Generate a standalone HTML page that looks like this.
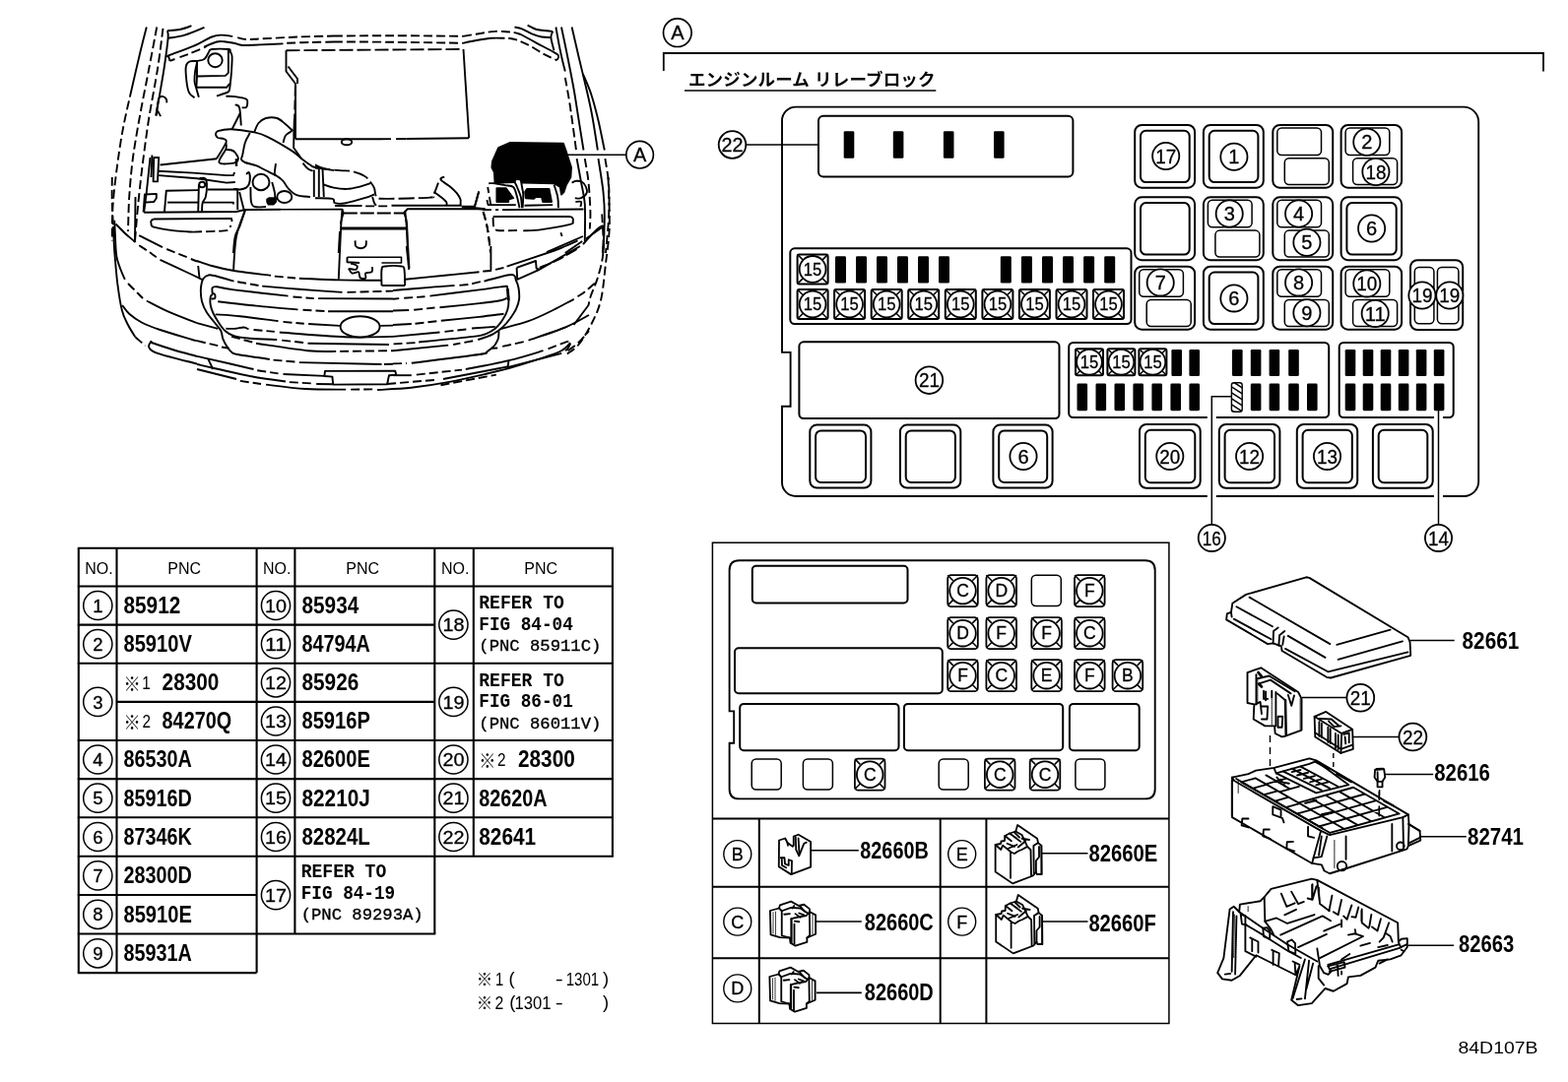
<!DOCTYPE html>
<html lang="ja"><head><meta charset="utf-8"><title>84D107B</title>
<style>
html,body{margin:0;padding:0;background:#fff;overflow:hidden}
svg{display:block;will-change:transform;opacity:.999}
text{font-family:"Liberation Sans",sans-serif;fill:#000}
.c{stroke:#000;stroke-width:.3}
.m{font-family:"Liberation Mono",monospace;font-weight:bold}
.j{stroke-linejoin:round;stroke-linecap:round}
.k{font-family:"Liberation Sans","Noto Sans CJK JP",sans-serif}
</style></head><body>
<svg width="1592" height="1099" viewBox="0 0 1592 1099">
<rect width="1592" height="1099" fill="#fff"/>
<g id="pnc-table">
<line x1="79.8" y1="556.8" x2="79.8" y2="988.1" stroke="#000" stroke-width="2.1"/>
<line x1="118.5" y1="556.8" x2="118.5" y2="988.1" stroke="#000" stroke-width="2.1"/>
<line x1="260.6" y1="556.8" x2="260.6" y2="988.1" stroke="#000" stroke-width="2.1"/>
<line x1="299.4" y1="556.8" x2="299.4" y2="948.5" stroke="#000" stroke-width="2.1"/>
<line x1="441.3" y1="556.8" x2="441.3" y2="948.5" stroke="#000" stroke-width="2.1"/>
<line x1="480.8" y1="556.8" x2="480.8" y2="869.8" stroke="#000" stroke-width="2.1"/>
<line x1="621.9" y1="556.8" x2="621.9" y2="869.8" stroke="#000" stroke-width="2.1"/>
<line x1="78.8" y1="556.8" x2="622.9" y2="556.8" stroke="#000" stroke-width="2.1"/>
<line x1="78.8" y1="595.5" x2="622.9" y2="595.5" stroke="#000" stroke-width="2.1"/>
<line x1="78.8" y1="634.6" x2="260.6" y2="634.6" stroke="#000" stroke-width="2.1"/>
<line x1="78.8" y1="673.8" x2="260.6" y2="673.8" stroke="#000" stroke-width="2.1"/>
<line x1="78.8" y1="752.0" x2="260.6" y2="752.0" stroke="#000" stroke-width="2.1"/>
<line x1="78.8" y1="791.1" x2="260.6" y2="791.1" stroke="#000" stroke-width="2.1"/>
<line x1="78.8" y1="830.3" x2="260.6" y2="830.3" stroke="#000" stroke-width="2.1"/>
<line x1="78.8" y1="869.8" x2="260.6" y2="869.8" stroke="#000" stroke-width="2.1"/>
<line x1="78.8" y1="909.0" x2="260.6" y2="909.0" stroke="#000" stroke-width="2.1"/>
<line x1="78.8" y1="948.5" x2="260.6" y2="948.5" stroke="#000" stroke-width="2.1"/>
<line x1="78.8" y1="988.1" x2="260.6" y2="988.1" stroke="#000" stroke-width="2.1"/>
<line x1="118.5" y1="712.9" x2="260.6" y2="712.9" stroke="#000" stroke-width="2.1"/>
<line x1="260.6" y1="634.6" x2="441.3" y2="634.6" stroke="#000" stroke-width="2.1"/>
<line x1="260.6" y1="673.8" x2="441.3" y2="673.8" stroke="#000" stroke-width="2.1"/>
<line x1="260.6" y1="712.9" x2="441.3" y2="712.9" stroke="#000" stroke-width="2.1"/>
<line x1="260.6" y1="752.0" x2="441.3" y2="752.0" stroke="#000" stroke-width="2.1"/>
<line x1="260.6" y1="791.1" x2="441.3" y2="791.1" stroke="#000" stroke-width="2.1"/>
<line x1="260.6" y1="830.3" x2="441.3" y2="830.3" stroke="#000" stroke-width="2.1"/>
<line x1="260.6" y1="869.8" x2="441.3" y2="869.8" stroke="#000" stroke-width="2.1"/>
<line x1="260.6" y1="948.5" x2="442.3" y2="948.5" stroke="#000" stroke-width="2.1"/>
<line x1="441.3" y1="673.8" x2="622.9" y2="673.8" stroke="#000" stroke-width="2.1"/>
<line x1="441.3" y1="752.0" x2="622.9" y2="752.0" stroke="#000" stroke-width="2.1"/>
<line x1="441.3" y1="791.1" x2="622.9" y2="791.1" stroke="#000" stroke-width="2.1"/>
<line x1="441.3" y1="830.3" x2="622.9" y2="830.3" stroke="#000" stroke-width="2.1"/>
<line x1="441.3" y1="869.8" x2="622.9" y2="869.8" stroke="#000" stroke-width="2.1"/>
<text x="100.4" y="582.8" font-size="16" text-anchor="middle">NO.</text>
<text x="187.2" y="582.8" font-size="16" text-anchor="middle">PNC</text>
<text x="281.2" y="582.8" font-size="16" text-anchor="middle">NO.</text>
<text x="368.1" y="582.8" font-size="16" text-anchor="middle">PNC</text>
<text x="462.2" y="582.8" font-size="16" text-anchor="middle">NO.</text>
<text x="549.1" y="582.8" font-size="16" text-anchor="middle">PNC</text>
<circle cx="99.3" cy="615.0" r="14.6" fill="#fff" stroke="#000" stroke-width="1.5"/>
<text class="c" x="99.3" y="621.6" font-size="18.5" text-anchor="middle">1</text>
<text x="125.5" y="622.9" font-size="24.6" font-weight="bold" textLength="57.8" lengthAdjust="spacingAndGlyphs" text-anchor="start">85912</text>
<circle cx="99.3" cy="654.2" r="14.6" fill="#fff" stroke="#000" stroke-width="1.5"/>
<text class="c" x="99.3" y="660.8" font-size="18.5" text-anchor="middle">2</text>
<text x="125.5" y="662.0" font-size="24.6" font-weight="bold" textLength="69.3" lengthAdjust="spacingAndGlyphs" text-anchor="start">85910V</text>
<circle cx="99.3" cy="712.9" r="14.6" fill="#fff" stroke="#000" stroke-width="1.5"/>
<text class="c" x="99.3" y="719.5" font-size="18.5" text-anchor="middle">3</text>
<text class="k" x="125.5" y="701.95" font-size="19" textLength="17.2" lengthAdjust="spacingAndGlyphs">※</text>
<text x="144.2" y="700.2" font-size="17.7" textLength="8.5" lengthAdjust="spacingAndGlyphs">1</text>
<text x="164.6" y="701.1" font-size="24.6" font-weight="bold" textLength="57.8" lengthAdjust="spacingAndGlyphs" text-anchor="start">28300</text>
<text class="k" x="125.5" y="741.05" font-size="19" textLength="17.2" lengthAdjust="spacingAndGlyphs">※</text>
<text x="144.5" y="739.4" font-size="17.7" textLength="8.5" lengthAdjust="spacingAndGlyphs">2</text>
<text x="164.6" y="740.3" font-size="24.6" font-weight="bold" textLength="70.5" lengthAdjust="spacingAndGlyphs" text-anchor="start">84270Q</text>
<circle cx="99.3" cy="771.5" r="14.6" fill="#fff" stroke="#000" stroke-width="1.5"/>
<text class="c" x="99.3" y="778.1" font-size="18.5" text-anchor="middle">4</text>
<text x="125.5" y="779.4" font-size="24.6" font-weight="bold" textLength="69.3" lengthAdjust="spacingAndGlyphs" text-anchor="start">86530A</text>
<circle cx="99.3" cy="810.7" r="14.6" fill="#fff" stroke="#000" stroke-width="1.5"/>
<text class="c" x="99.3" y="817.3" font-size="18.5" text-anchor="middle">5</text>
<text x="125.5" y="818.5" font-size="24.6" font-weight="bold" textLength="69.3" lengthAdjust="spacingAndGlyphs" text-anchor="start">85916D</text>
<circle cx="99.3" cy="850.0" r="14.6" fill="#fff" stroke="#000" stroke-width="1.5"/>
<text class="c" x="99.3" y="856.6" font-size="18.5" text-anchor="middle">6</text>
<text x="125.5" y="857.9" font-size="24.6" font-weight="bold" textLength="69.3" lengthAdjust="spacingAndGlyphs" text-anchor="start">87346K</text>
<circle cx="99.3" cy="889.4" r="14.6" fill="#fff" stroke="#000" stroke-width="1.5"/>
<text class="c" x="99.3" y="896.0" font-size="18.5" text-anchor="middle">7</text>
<text x="125.5" y="897.2" font-size="24.6" font-weight="bold" textLength="69.3" lengthAdjust="spacingAndGlyphs" text-anchor="start">28300D</text>
<circle cx="99.3" cy="928.8" r="14.6" fill="#fff" stroke="#000" stroke-width="1.5"/>
<text class="c" x="99.3" y="935.3" font-size="18.5" text-anchor="middle">8</text>
<text x="125.5" y="936.6" font-size="24.6" font-weight="bold" textLength="69.3" lengthAdjust="spacingAndGlyphs" text-anchor="start">85910E</text>
<circle cx="99.3" cy="968.3" r="14.6" fill="#fff" stroke="#000" stroke-width="1.5"/>
<text class="c" x="99.3" y="974.9" font-size="18.5" text-anchor="middle">9</text>
<text x="125.5" y="976.1" font-size="24.6" font-weight="bold" textLength="69.3" lengthAdjust="spacingAndGlyphs" text-anchor="start">85931A</text>
<circle cx="280.0" cy="615.0" r="14.6" fill="#fff" stroke="#000" stroke-width="1.5"/>
<text class="c" x="280.0" y="621.6" font-size="18.5" text-anchor="middle" textLength="22" lengthAdjust="spacingAndGlyphs">10</text>
<text x="306.5" y="622.9" font-size="24.6" font-weight="bold" textLength="57.8" lengthAdjust="spacingAndGlyphs" text-anchor="start">85934</text>
<circle cx="280.0" cy="654.2" r="14.6" fill="#fff" stroke="#000" stroke-width="1.5"/>
<text class="c" x="280.0" y="660.8" font-size="18.5" text-anchor="middle" textLength="22" lengthAdjust="spacingAndGlyphs">11</text>
<text x="306.5" y="662.0" font-size="24.6" font-weight="bold" textLength="69.3" lengthAdjust="spacingAndGlyphs" text-anchor="start">84794A</text>
<circle cx="280.0" cy="693.3" r="14.6" fill="#fff" stroke="#000" stroke-width="1.5"/>
<text class="c" x="280.0" y="699.9" font-size="18.5" text-anchor="middle" textLength="22" lengthAdjust="spacingAndGlyphs">12</text>
<text x="306.5" y="701.1" font-size="24.6" font-weight="bold" textLength="57.8" lengthAdjust="spacingAndGlyphs" text-anchor="start">85926</text>
<circle cx="280.0" cy="732.5" r="14.6" fill="#fff" stroke="#000" stroke-width="1.5"/>
<text class="c" x="280.0" y="739.0" font-size="18.5" text-anchor="middle" textLength="22" lengthAdjust="spacingAndGlyphs">13</text>
<text x="306.5" y="740.3" font-size="24.6" font-weight="bold" textLength="69.3" lengthAdjust="spacingAndGlyphs" text-anchor="start">85916P</text>
<circle cx="280.0" cy="771.5" r="14.6" fill="#fff" stroke="#000" stroke-width="1.5"/>
<text class="c" x="280.0" y="778.1" font-size="18.5" text-anchor="middle" textLength="22" lengthAdjust="spacingAndGlyphs">14</text>
<text x="306.5" y="779.4" font-size="24.6" font-weight="bold" textLength="69.3" lengthAdjust="spacingAndGlyphs" text-anchor="start">82600E</text>
<circle cx="280.0" cy="810.7" r="14.6" fill="#fff" stroke="#000" stroke-width="1.5"/>
<text class="c" x="280.0" y="817.3" font-size="18.5" text-anchor="middle" textLength="22" lengthAdjust="spacingAndGlyphs">15</text>
<text x="306.5" y="818.5" font-size="24.6" font-weight="bold" textLength="69.3" lengthAdjust="spacingAndGlyphs" text-anchor="start">82210J</text>
<circle cx="280.0" cy="850.0" r="14.6" fill="#fff" stroke="#000" stroke-width="1.5"/>
<text class="c" x="280.0" y="856.6" font-size="18.5" text-anchor="middle" textLength="22" lengthAdjust="spacingAndGlyphs">16</text>
<text x="306.5" y="857.9" font-size="24.6" font-weight="bold" textLength="69.3" lengthAdjust="spacingAndGlyphs" text-anchor="start">82824L</text>
<circle cx="280.0" cy="909.1" r="14.6" fill="#fff" stroke="#000" stroke-width="1.5"/>
<text class="c" x="280.0" y="915.7" font-size="18.5" text-anchor="middle" textLength="22" lengthAdjust="spacingAndGlyphs">17</text>
<text class="m" x="305.7" y="891.4" font-size="20" textLength="86.5" lengthAdjust="spacingAndGlyphs">REFER TO</text>
<text class="m" x="305.7" y="912.8" font-size="20" textLength="95.5" lengthAdjust="spacingAndGlyphs">FIG 84-19</text>
<text class="m" x="305.7" y="934.4" font-size="17" textLength="124" lengthAdjust="spacingAndGlyphs" style="font-weight:normal;stroke:#000;stroke-width:.35">(PNC 89293A)</text>
<circle cx="460.4" cy="634.6" r="14.6" fill="#fff" stroke="#000" stroke-width="1.5"/>
<text class="c" x="460.4" y="641.2" font-size="18.5" text-anchor="middle" textLength="22" lengthAdjust="spacingAndGlyphs">18</text>
<text class="m" x="486.3" y="618.4" font-size="20" textLength="86.5" lengthAdjust="spacingAndGlyphs">REFER TO</text>
<text class="m" x="486.3" y="639.8" font-size="20" textLength="95.5" lengthAdjust="spacingAndGlyphs">FIG 84-04</text>
<text class="m" x="486.3" y="661.4" font-size="17" textLength="124" lengthAdjust="spacingAndGlyphs" style="font-weight:normal;stroke:#000;stroke-width:.35">(PNC 85911C)</text>
<circle cx="460.4" cy="712.9" r="14.6" fill="#fff" stroke="#000" stroke-width="1.5"/>
<text class="c" x="460.4" y="719.5" font-size="18.5" text-anchor="middle" textLength="22" lengthAdjust="spacingAndGlyphs">19</text>
<text class="m" x="486.3" y="696.8" font-size="20" textLength="86.5" lengthAdjust="spacingAndGlyphs">REFER TO</text>
<text class="m" x="486.3" y="718.2" font-size="20" textLength="95.5" lengthAdjust="spacingAndGlyphs">FIG 86-01</text>
<text class="m" x="486.3" y="739.8" font-size="17" textLength="124" lengthAdjust="spacingAndGlyphs" style="font-weight:normal;stroke:#000;stroke-width:.35">(PNC 86011V)</text>
<circle cx="460.4" cy="771.5" r="14.6" fill="#fff" stroke="#000" stroke-width="1.5"/>
<text class="c" x="460.4" y="778.1" font-size="18.5" text-anchor="middle" textLength="22" lengthAdjust="spacingAndGlyphs">20</text>
<text class="k" x="486.3" y="780.15" font-size="19" textLength="17.2" lengthAdjust="spacingAndGlyphs">※</text>
<text x="505.0" y="778.4" font-size="17.7" textLength="8.5" lengthAdjust="spacingAndGlyphs">2</text>
<text x="526.0" y="779.4" font-size="24.6" font-weight="bold" textLength="57.8" lengthAdjust="spacingAndGlyphs" text-anchor="start">28300</text>
<circle cx="460.4" cy="810.7" r="14.6" fill="#fff" stroke="#000" stroke-width="1.5"/>
<text class="c" x="460.4" y="817.3" font-size="18.5" text-anchor="middle" textLength="22" lengthAdjust="spacingAndGlyphs">21</text>
<text x="486.3" y="818.5" font-size="24.6" font-weight="bold" textLength="69.3" lengthAdjust="spacingAndGlyphs" text-anchor="start">82620A</text>
<circle cx="460.4" cy="850.0" r="14.6" fill="#fff" stroke="#000" stroke-width="1.5"/>
<text class="c" x="460.4" y="856.6" font-size="18.5" text-anchor="middle" textLength="22" lengthAdjust="spacingAndGlyphs">22</text>
<text x="486.3" y="857.9" font-size="24.6" font-weight="bold" textLength="57.8" lengthAdjust="spacingAndGlyphs" text-anchor="start">82641</text>
<text class="k" x="483.8" y="1000.8" font-size="17.5" textLength="16.4" lengthAdjust="spacingAndGlyphs">※</text>
<text class="k" x="483.8" y="1024.6" font-size="17.5" textLength="16.4" lengthAdjust="spacingAndGlyphs">※</text>
<text x="503.0" y="1000.8" font-size="18.4" textLength="8.2" lengthAdjust="spacingAndGlyphs">1</text>
<text x="516.6" y="1000.4" font-size="18.4">(</text>
<text x="563.8" y="1000.8" font-size="18.4" textLength="8.0" lengthAdjust="spacingAndGlyphs">-</text>
<text x="574.7" y="1000.8" font-size="18.4" textLength="33.5" lengthAdjust="spacingAndGlyphs">1301</text>
<text x="612.0" y="1000.4" font-size="18.4">)</text>
<text x="502.4" y="1024.6" font-size="18.4" textLength="8.8" lengthAdjust="spacingAndGlyphs">2</text>
<text x="517.3" y="1024.2" font-size="18.4">(</text>
<text x="522.6" y="1024.6" font-size="18.4" textLength="37.0" lengthAdjust="spacingAndGlyphs">1301</text>
<text x="563.8" y="1024.6" font-size="18.4" textLength="8.0" lengthAdjust="spacingAndGlyphs">-</text>
<text x="612.0" y="1024.2" font-size="18.4">)</text>
</g>
<g id="relay-block">
<circle cx="687.8" cy="33.2" r="14.3" fill="#fff" stroke="#000" stroke-width="1.7"/>
<text class="c" x="687.8" y="40.3" font-size="20" text-anchor="middle">A</text>
<path d="M673.8,72 L673.8,54 L1567,54 L1567,72.5" fill="none" stroke="#000" stroke-width="1.8" />
<g aria-label="エンジンルーム リレーブロック">
<text class="k" x="698.9" y="87" font-size="17.5" font-weight="bold" textLength="250.6" lengthAdjust="spacing">エンジンルーム リレーブロック</text>
</g>
<line x1="695.0" y1="92.0" x2="950.3" y2="92.0" stroke="#000" stroke-width="1.6"/>
<path d="M808,108.6 L1486,108.6 A15.2,15.2 0 0 1 1501.2,123.8 L1501.2,489 A15,15 0 0 1 1486.2,504 L808,504 A14,14 0 0 1 794,490 L794,412.7 L802.6,412.7 L802.6,357.9 L794,357.9 L794,122.6 A14,14 0 0 1 808,108.6 Z" fill="none" stroke="#000" stroke-width="1.9" />
<rect x="831.0" y="117.8" width="258.4" height="61.8" rx="5" ry="5" fill="none" stroke="#000" stroke-width="2.0"/>
<rect x="856.7" y="133.2" width="10.6" height="27.6" rx="1.4" ry="1.4" fill="#000"/>
<rect x="906.8" y="133.2" width="10.6" height="27.6" rx="1.4" ry="1.4" fill="#000"/>
<rect x="957.9" y="133.2" width="10.6" height="27.6" rx="1.4" ry="1.4" fill="#000"/>
<rect x="1009.0" y="133.2" width="10.6" height="27.6" rx="1.4" ry="1.4" fill="#000"/>
<circle cx="743.5" cy="147.0" r="13.8" fill="#fff" stroke="#000" stroke-width="1.8"/>
<text class="c" x="743.5" y="154.1" font-size="20" text-anchor="middle" textLength="22" lengthAdjust="spacingAndGlyphs">22</text>
<line x1="757.3" y1="147.0" x2="831.0" y2="147.0" stroke="#000" stroke-width="1.6"/>
<rect x="802.3" y="252.3" width="346.2" height="76.7" rx="4.5" ry="4.5" fill="none" stroke="#000" stroke-width="2.0"/>
<rect x="809.6" y="258.4" width="31.0" height="30.0" rx="2" ry="2" fill="none" stroke="#000" stroke-width="2.0"/>
<line x1="809.6" y1="258.4" x2="815.6" y2="264.4" stroke="#000" stroke-width="1.5"/>
<line x1="840.6" y1="258.4" x2="834.6" y2="264.4" stroke="#000" stroke-width="1.5"/>
<line x1="809.6" y1="288.4" x2="815.6" y2="282.4" stroke="#000" stroke-width="1.5"/>
<line x1="840.6" y1="288.4" x2="834.6" y2="282.4" stroke="#000" stroke-width="1.5"/>
<circle cx="825.1" cy="273.4" r="13.4" fill="#fff" stroke="#000" stroke-width="1.8"/>
<text class="c" x="825.1" y="279.8" font-size="18" text-anchor="middle" textLength="18.5" lengthAdjust="spacingAndGlyphs">15</text>
<rect x="848.0" y="260.2" width="11" height="27.4" rx="1.4" ry="1.4" fill="#000"/>
<rect x="869.0" y="260.2" width="11" height="27.4" rx="1.4" ry="1.4" fill="#000"/>
<rect x="890.0" y="260.2" width="11" height="27.4" rx="1.4" ry="1.4" fill="#000"/>
<rect x="911.0" y="260.2" width="11" height="27.4" rx="1.4" ry="1.4" fill="#000"/>
<rect x="932.0" y="260.2" width="11" height="27.4" rx="1.4" ry="1.4" fill="#000"/>
<rect x="953.0" y="260.2" width="11" height="27.4" rx="1.4" ry="1.4" fill="#000"/>
<rect x="1015.8" y="260.2" width="11" height="27.4" rx="1.4" ry="1.4" fill="#000"/>
<rect x="1036.9" y="260.2" width="11" height="27.4" rx="1.4" ry="1.4" fill="#000"/>
<rect x="1058.0" y="260.2" width="11" height="27.4" rx="1.4" ry="1.4" fill="#000"/>
<rect x="1079.0" y="260.2" width="11" height="27.4" rx="1.4" ry="1.4" fill="#000"/>
<rect x="1100.1" y="260.2" width="11" height="27.4" rx="1.4" ry="1.4" fill="#000"/>
<rect x="1121.2" y="260.2" width="11" height="27.4" rx="1.4" ry="1.4" fill="#000"/>
<rect x="809.6" y="294.0" width="31.0" height="30.0" rx="2" ry="2" fill="none" stroke="#000" stroke-width="2.0"/>
<line x1="809.6" y1="294.0" x2="815.6" y2="300.0" stroke="#000" stroke-width="1.5"/>
<line x1="840.6" y1="294.0" x2="834.6" y2="300.0" stroke="#000" stroke-width="1.5"/>
<line x1="809.6" y1="324.0" x2="815.6" y2="318.0" stroke="#000" stroke-width="1.5"/>
<line x1="840.6" y1="324.0" x2="834.6" y2="318.0" stroke="#000" stroke-width="1.5"/>
<circle cx="825.1" cy="309.0" r="13.4" fill="#fff" stroke="#000" stroke-width="1.8"/>
<text class="c" x="825.1" y="315.4" font-size="18" text-anchor="middle" textLength="18.5" lengthAdjust="spacingAndGlyphs">15</text>
<rect x="847.1" y="294.0" width="31.0" height="30.0" rx="2" ry="2" fill="none" stroke="#000" stroke-width="2.0"/>
<line x1="847.1" y1="294.0" x2="853.1" y2="300.0" stroke="#000" stroke-width="1.5"/>
<line x1="878.1" y1="294.0" x2="872.1" y2="300.0" stroke="#000" stroke-width="1.5"/>
<line x1="847.1" y1="324.0" x2="853.1" y2="318.0" stroke="#000" stroke-width="1.5"/>
<line x1="878.1" y1="324.0" x2="872.1" y2="318.0" stroke="#000" stroke-width="1.5"/>
<circle cx="862.6" cy="309.0" r="13.4" fill="#fff" stroke="#000" stroke-width="1.8"/>
<text class="c" x="862.6" y="315.4" font-size="18" text-anchor="middle" textLength="18.5" lengthAdjust="spacingAndGlyphs">15</text>
<rect x="884.7" y="294.0" width="31.0" height="30.0" rx="2" ry="2" fill="none" stroke="#000" stroke-width="2.0"/>
<line x1="884.7" y1="294.0" x2="890.7" y2="300.0" stroke="#000" stroke-width="1.5"/>
<line x1="915.7" y1="294.0" x2="909.7" y2="300.0" stroke="#000" stroke-width="1.5"/>
<line x1="884.7" y1="324.0" x2="890.7" y2="318.0" stroke="#000" stroke-width="1.5"/>
<line x1="915.7" y1="324.0" x2="909.7" y2="318.0" stroke="#000" stroke-width="1.5"/>
<circle cx="900.2" cy="309.0" r="13.4" fill="#fff" stroke="#000" stroke-width="1.8"/>
<text class="c" x="900.2" y="315.4" font-size="18" text-anchor="middle" textLength="18.5" lengthAdjust="spacingAndGlyphs">15</text>
<rect x="922.2" y="294.0" width="31.0" height="30.0" rx="2" ry="2" fill="none" stroke="#000" stroke-width="2.0"/>
<line x1="922.2" y1="294.0" x2="928.2" y2="300.0" stroke="#000" stroke-width="1.5"/>
<line x1="953.2" y1="294.0" x2="947.2" y2="300.0" stroke="#000" stroke-width="1.5"/>
<line x1="922.2" y1="324.0" x2="928.2" y2="318.0" stroke="#000" stroke-width="1.5"/>
<line x1="953.2" y1="324.0" x2="947.2" y2="318.0" stroke="#000" stroke-width="1.5"/>
<circle cx="937.8" cy="309.0" r="13.4" fill="#fff" stroke="#000" stroke-width="1.8"/>
<text class="c" x="937.8" y="315.4" font-size="18" text-anchor="middle" textLength="18.5" lengthAdjust="spacingAndGlyphs">15</text>
<rect x="959.8" y="294.0" width="31.0" height="30.0" rx="2" ry="2" fill="none" stroke="#000" stroke-width="2.0"/>
<line x1="959.8" y1="294.0" x2="965.8" y2="300.0" stroke="#000" stroke-width="1.5"/>
<line x1="990.8" y1="294.0" x2="984.8" y2="300.0" stroke="#000" stroke-width="1.5"/>
<line x1="959.8" y1="324.0" x2="965.8" y2="318.0" stroke="#000" stroke-width="1.5"/>
<line x1="990.8" y1="324.0" x2="984.8" y2="318.0" stroke="#000" stroke-width="1.5"/>
<circle cx="975.3" cy="309.0" r="13.4" fill="#fff" stroke="#000" stroke-width="1.8"/>
<text class="c" x="975.3" y="315.4" font-size="18" text-anchor="middle" textLength="18.5" lengthAdjust="spacingAndGlyphs">15</text>
<rect x="997.4" y="294.0" width="31.0" height="30.0" rx="2" ry="2" fill="none" stroke="#000" stroke-width="2.0"/>
<line x1="997.4" y1="294.0" x2="1003.4" y2="300.0" stroke="#000" stroke-width="1.5"/>
<line x1="1028.3" y1="294.0" x2="1022.3" y2="300.0" stroke="#000" stroke-width="1.5"/>
<line x1="997.4" y1="324.0" x2="1003.4" y2="318.0" stroke="#000" stroke-width="1.5"/>
<line x1="1028.3" y1="324.0" x2="1022.3" y2="318.0" stroke="#000" stroke-width="1.5"/>
<circle cx="1012.9" cy="309.0" r="13.4" fill="#fff" stroke="#000" stroke-width="1.8"/>
<text class="c" x="1012.9" y="315.4" font-size="18" text-anchor="middle" textLength="18.5" lengthAdjust="spacingAndGlyphs">15</text>
<rect x="1034.9" y="294.0" width="31.0" height="30.0" rx="2" ry="2" fill="none" stroke="#000" stroke-width="2.0"/>
<line x1="1034.9" y1="294.0" x2="1040.9" y2="300.0" stroke="#000" stroke-width="1.5"/>
<line x1="1065.9" y1="294.0" x2="1059.9" y2="300.0" stroke="#000" stroke-width="1.5"/>
<line x1="1034.9" y1="324.0" x2="1040.9" y2="318.0" stroke="#000" stroke-width="1.5"/>
<line x1="1065.9" y1="324.0" x2="1059.9" y2="318.0" stroke="#000" stroke-width="1.5"/>
<circle cx="1050.4" cy="309.0" r="13.4" fill="#fff" stroke="#000" stroke-width="1.8"/>
<text class="c" x="1050.4" y="315.4" font-size="18" text-anchor="middle" textLength="18.5" lengthAdjust="spacingAndGlyphs">15</text>
<rect x="1072.5" y="294.0" width="31.0" height="30.0" rx="2" ry="2" fill="none" stroke="#000" stroke-width="2.0"/>
<line x1="1072.5" y1="294.0" x2="1078.5" y2="300.0" stroke="#000" stroke-width="1.5"/>
<line x1="1103.5" y1="294.0" x2="1097.5" y2="300.0" stroke="#000" stroke-width="1.5"/>
<line x1="1072.5" y1="324.0" x2="1078.5" y2="318.0" stroke="#000" stroke-width="1.5"/>
<line x1="1103.5" y1="324.0" x2="1097.5" y2="318.0" stroke="#000" stroke-width="1.5"/>
<circle cx="1088.0" cy="309.0" r="13.4" fill="#fff" stroke="#000" stroke-width="1.8"/>
<text class="c" x="1088.0" y="315.4" font-size="18" text-anchor="middle" textLength="18.5" lengthAdjust="spacingAndGlyphs">15</text>
<rect x="1110.0" y="294.0" width="31.0" height="30.0" rx="2" ry="2" fill="none" stroke="#000" stroke-width="2.0"/>
<line x1="1110.0" y1="294.0" x2="1116.0" y2="300.0" stroke="#000" stroke-width="1.5"/>
<line x1="1141.0" y1="294.0" x2="1135.0" y2="300.0" stroke="#000" stroke-width="1.5"/>
<line x1="1110.0" y1="324.0" x2="1116.0" y2="318.0" stroke="#000" stroke-width="1.5"/>
<line x1="1141.0" y1="324.0" x2="1135.0" y2="318.0" stroke="#000" stroke-width="1.5"/>
<circle cx="1125.5" cy="309.0" r="13.4" fill="#fff" stroke="#000" stroke-width="1.8"/>
<text class="c" x="1125.5" y="315.4" font-size="18" text-anchor="middle" textLength="18.5" lengthAdjust="spacingAndGlyphs">15</text>
<rect x="811.4" y="347.3" width="264.1" height="77.7" rx="4.5" ry="4.5" fill="none" stroke="#000" stroke-width="2.0"/>
<circle cx="943.4" cy="386.2" r="13.8" fill="#fff" stroke="#000" stroke-width="1.8"/>
<text class="c" x="943.4" y="393.3" font-size="20" text-anchor="middle" textLength="21" lengthAdjust="spacingAndGlyphs">21</text>
<rect x="1085.2" y="348.0" width="264.0" height="76.0" rx="4.5" ry="4.5" fill="none" stroke="#000" stroke-width="2.0"/>
<rect x="1092.0" y="354.2" width="28.0" height="27.0" rx="2" ry="2" fill="none" stroke="#000" stroke-width="2.0"/>
<line x1="1092.0" y1="354.2" x2="1098.0" y2="360.2" stroke="#000" stroke-width="1.5"/>
<line x1="1120.0" y1="354.2" x2="1114.0" y2="360.2" stroke="#000" stroke-width="1.5"/>
<line x1="1092.0" y1="381.2" x2="1098.0" y2="375.2" stroke="#000" stroke-width="1.5"/>
<line x1="1120.0" y1="381.2" x2="1114.0" y2="375.2" stroke="#000" stroke-width="1.5"/>
<circle cx="1106.0" cy="367.7" r="12.9" fill="#fff" stroke="#000" stroke-width="1.8"/>
<text class="c" x="1106.0" y="374.1" font-size="18" text-anchor="middle" textLength="18.5" lengthAdjust="spacingAndGlyphs">15</text>
<rect x="1124.4" y="354.2" width="28.0" height="27.0" rx="2" ry="2" fill="none" stroke="#000" stroke-width="2.0"/>
<line x1="1124.4" y1="354.2" x2="1130.4" y2="360.2" stroke="#000" stroke-width="1.5"/>
<line x1="1152.4" y1="354.2" x2="1146.4" y2="360.2" stroke="#000" stroke-width="1.5"/>
<line x1="1124.4" y1="381.2" x2="1130.4" y2="375.2" stroke="#000" stroke-width="1.5"/>
<line x1="1152.4" y1="381.2" x2="1146.4" y2="375.2" stroke="#000" stroke-width="1.5"/>
<circle cx="1138.4" cy="367.7" r="12.9" fill="#fff" stroke="#000" stroke-width="1.8"/>
<text class="c" x="1138.4" y="374.1" font-size="18" text-anchor="middle" textLength="18.5" lengthAdjust="spacingAndGlyphs">15</text>
<rect x="1156.4" y="354.2" width="28.0" height="27.0" rx="2" ry="2" fill="none" stroke="#000" stroke-width="2.0"/>
<line x1="1156.4" y1="354.2" x2="1162.4" y2="360.2" stroke="#000" stroke-width="1.5"/>
<line x1="1184.4" y1="354.2" x2="1178.4" y2="360.2" stroke="#000" stroke-width="1.5"/>
<line x1="1156.4" y1="381.2" x2="1162.4" y2="375.2" stroke="#000" stroke-width="1.5"/>
<line x1="1184.4" y1="381.2" x2="1178.4" y2="375.2" stroke="#000" stroke-width="1.5"/>
<circle cx="1170.4" cy="367.7" r="12.9" fill="#fff" stroke="#000" stroke-width="1.8"/>
<text class="c" x="1170.4" y="374.1" font-size="18" text-anchor="middle" textLength="18.5" lengthAdjust="spacingAndGlyphs">15</text>
<rect x="1189.4" y="354.9" width="10.6" height="27.2" rx="1.4" ry="1.4" fill="#000"/>
<rect x="1207.4" y="354.9" width="10.6" height="27.2" rx="1.4" ry="1.4" fill="#000"/>
<rect x="1251.0" y="354.9" width="10.6" height="27.2" rx="1.4" ry="1.4" fill="#000"/>
<rect x="1269.8" y="354.9" width="10.6" height="27.2" rx="1.4" ry="1.4" fill="#000"/>
<rect x="1288.6" y="354.9" width="10.6" height="27.2" rx="1.4" ry="1.4" fill="#000"/>
<rect x="1308.2" y="354.9" width="10.6" height="27.2" rx="1.4" ry="1.4" fill="#000"/>
<rect x="1093.5" y="389.6" width="10.6" height="27.6" rx="1.4" ry="1.4" fill="#000"/>
<rect x="1112.5" y="389.6" width="10.6" height="27.6" rx="1.4" ry="1.4" fill="#000"/>
<rect x="1131.5" y="389.6" width="10.6" height="27.6" rx="1.4" ry="1.4" fill="#000"/>
<rect x="1150.4" y="389.6" width="10.6" height="27.6" rx="1.4" ry="1.4" fill="#000"/>
<rect x="1169.4" y="389.6" width="10.6" height="27.6" rx="1.4" ry="1.4" fill="#000"/>
<rect x="1188.4" y="389.6" width="10.6" height="27.6" rx="1.4" ry="1.4" fill="#000"/>
<rect x="1207.4" y="389.6" width="10.6" height="27.6" rx="1.4" ry="1.4" fill="#000"/>
<rect x="1269.8" y="389.6" width="10.6" height="27.6" rx="1.4" ry="1.4" fill="#000"/>
<rect x="1288.6" y="389.6" width="10.6" height="27.6" rx="1.4" ry="1.4" fill="#000"/>
<rect x="1308.2" y="389.6" width="10.6" height="27.6" rx="1.4" ry="1.4" fill="#000"/>
<rect x="1327.0" y="389.6" width="10.6" height="27.6" rx="1.4" ry="1.4" fill="#000"/>
<defs><clipPath id="h16"><rect x="1250.4" y="388.8" width="10.8" height="29.4" rx="2.5"/></clipPath></defs>
<g clip-path="url(#h16)" stroke="#000" stroke-width="1.6"><line x1="1249" y1="380" x2="1263" y2="389"/><line x1="1249" y1="386" x2="1263" y2="395"/><line x1="1249" y1="392" x2="1263" y2="401"/><line x1="1249" y1="398" x2="1263" y2="407"/><line x1="1249" y1="404" x2="1263" y2="413"/><line x1="1249" y1="410" x2="1263" y2="419"/><line x1="1249" y1="416" x2="1263" y2="425"/></g>
<rect x="1250.4" y="388.8" width="10.8" height="29.4" rx="2.5" ry="2.5" fill="none" stroke="#000" stroke-width="1.4"/>
<rect x="1359.7" y="348.0" width="116.0" height="76.0" rx="4.5" ry="4.5" fill="none" stroke="#000" stroke-width="2.0"/>
<rect x="1365.7" y="354.9" width="10.6" height="27.2" rx="1.4" ry="1.4" fill="#000"/>
<rect x="1365.7" y="389.6" width="10.6" height="27.6" rx="1.4" ry="1.4" fill="#000"/>
<rect x="1383.7" y="354.9" width="10.6" height="27.2" rx="1.4" ry="1.4" fill="#000"/>
<rect x="1383.7" y="389.6" width="10.6" height="27.6" rx="1.4" ry="1.4" fill="#000"/>
<rect x="1401.7" y="354.9" width="10.6" height="27.2" rx="1.4" ry="1.4" fill="#000"/>
<rect x="1401.7" y="389.6" width="10.6" height="27.6" rx="1.4" ry="1.4" fill="#000"/>
<rect x="1419.8" y="354.9" width="10.6" height="27.2" rx="1.4" ry="1.4" fill="#000"/>
<rect x="1419.8" y="389.6" width="10.6" height="27.6" rx="1.4" ry="1.4" fill="#000"/>
<rect x="1437.8" y="354.9" width="10.6" height="27.2" rx="1.4" ry="1.4" fill="#000"/>
<rect x="1437.8" y="389.6" width="10.6" height="27.6" rx="1.4" ry="1.4" fill="#000"/>
<rect x="1455.8" y="354.9" width="10.6" height="27.2" rx="1.4" ry="1.4" fill="#000"/>
<rect x="1455.8" y="389.6" width="10.6" height="27.6" rx="1.4" ry="1.4" fill="#000"/>
<rect x="822.3" y="431.6" width="62.1" height="64.0" rx="7" ry="7" fill="none" stroke="#000" stroke-width="2.0"/>
<rect x="828.1" y="437.4" width="50.9" height="52.6" rx="5.5" ry="5.5" fill="none" stroke="#000" stroke-width="2.0"/>
<rect x="913.9" y="431.6" width="61.4" height="64.0" rx="7" ry="7" fill="none" stroke="#000" stroke-width="2.0"/>
<rect x="919.7" y="437.4" width="50.2" height="52.6" rx="5.5" ry="5.5" fill="none" stroke="#000" stroke-width="2.0"/>
<rect x="1008.4" y="431.6" width="60.2" height="64.0" rx="7" ry="7" fill="none" stroke="#000" stroke-width="2.0"/>
<rect x="1014.2" y="437.4" width="49.0" height="52.6" rx="5.5" ry="5.5" fill="none" stroke="#000" stroke-width="2.0"/>
<circle cx="1039.0" cy="463.5" r="13.6" fill="#fff" stroke="#000" stroke-width="1.8"/>
<text class="c" x="1039.0" y="470.6" font-size="20" text-anchor="middle">6</text>
<rect x="1157.0" y="431.0" width="61.7" height="64.8" rx="7" ry="7" fill="none" stroke="#000" stroke-width="2.0"/>
<rect x="1162.8" y="436.8" width="50.5" height="53.4" rx="5.5" ry="5.5" fill="none" stroke="#000" stroke-width="2.0"/>
<circle cx="1187.8" cy="463.4" r="13.6" fill="#fff" stroke="#000" stroke-width="1.8"/>
<text class="c" x="1187.8" y="470.5" font-size="20" text-anchor="middle" textLength="21" lengthAdjust="spacingAndGlyphs">20</text>
<rect x="1237.8" y="431.0" width="61.6" height="64.8" rx="7" ry="7" fill="none" stroke="#000" stroke-width="2.0"/>
<rect x="1243.6" y="436.8" width="50.4" height="53.4" rx="5.5" ry="5.5" fill="none" stroke="#000" stroke-width="2.0"/>
<circle cx="1268.6" cy="463.4" r="13.6" fill="#fff" stroke="#000" stroke-width="1.8"/>
<text class="c" x="1268.6" y="470.5" font-size="20" text-anchor="middle" textLength="21" lengthAdjust="spacingAndGlyphs">12</text>
<rect x="1316.8" y="431.0" width="61.4" height="64.8" rx="7" ry="7" fill="none" stroke="#000" stroke-width="2.0"/>
<rect x="1322.6" y="436.8" width="50.2" height="53.4" rx="5.5" ry="5.5" fill="none" stroke="#000" stroke-width="2.0"/>
<circle cx="1347.5" cy="463.4" r="13.6" fill="#fff" stroke="#000" stroke-width="1.8"/>
<text class="c" x="1347.5" y="470.5" font-size="20" text-anchor="middle" textLength="21" lengthAdjust="spacingAndGlyphs">13</text>
<rect x="1393.9" y="431.0" width="60.8" height="64.8" rx="7" ry="7" fill="none" stroke="#000" stroke-width="2.0"/>
<rect x="1399.7" y="436.8" width="49.6" height="53.4" rx="5.5" ry="5.5" fill="none" stroke="#000" stroke-width="2.0"/>
<rect x="1152.2" y="127.0" width="60.9" height="63.7" rx="7" ry="7" fill="none" stroke="#000" stroke-width="2.0"/>
<rect x="1158.0" y="132.8" width="49.7" height="52.3" rx="5.5" ry="5.5" fill="none" stroke="#000" stroke-width="2.0"/>
<circle cx="1183.7" cy="158.5" r="13.6" fill="#fff" stroke="#000" stroke-width="1.8"/>
<text class="c" x="1183.7" y="165.6" font-size="20" text-anchor="middle" textLength="21" lengthAdjust="spacingAndGlyphs">17</text>
<rect x="1221.9" y="127.0" width="60.9" height="63.7" rx="7" ry="7" fill="none" stroke="#000" stroke-width="2.0"/>
<rect x="1227.7" y="132.8" width="49.7" height="52.3" rx="5.5" ry="5.5" fill="none" stroke="#000" stroke-width="2.0"/>
<circle cx="1252.9" cy="159.2" r="13.6" fill="#fff" stroke="#000" stroke-width="1.8"/>
<text class="c" x="1252.9" y="166.3" font-size="20" text-anchor="middle">1</text>
<rect x="1292.3" y="127.0" width="60.9" height="63.7" rx="7" ry="7" fill="none" stroke="#000" stroke-width="2.0"/>
<rect x="1296.8" y="130.0" width="44.7" height="27.5" rx="4.5" ry="4.5" fill="none" stroke="#000" stroke-width="1.5"/>
<rect x="1304.3" y="160.8" width="45.0" height="26.7" rx="4.5" ry="4.5" fill="none" stroke="#000" stroke-width="1.5"/>
<rect x="1361.6" y="127.0" width="61.5" height="63.7" rx="7" ry="7" fill="none" stroke="#000" stroke-width="2.0"/>
<rect x="1366.1" y="130.0" width="44.7" height="27.5" rx="4.5" ry="4.5" fill="none" stroke="#000" stroke-width="1.5"/>
<rect x="1373.6" y="160.8" width="45.0" height="26.7" rx="4.5" ry="4.5" fill="none" stroke="#000" stroke-width="1.5"/>
<circle cx="1387.8" cy="144.2" r="13.6" fill="#fff" stroke="#000" stroke-width="1.8"/>
<text class="c" x="1387.8" y="151.3" font-size="20" text-anchor="middle">2</text>
<circle cx="1396.9" cy="174.5" r="13.6" fill="#fff" stroke="#000" stroke-width="1.8"/>
<text class="c" x="1396.9" y="181.6" font-size="20" text-anchor="middle" textLength="21" lengthAdjust="spacingAndGlyphs">18</text>
<rect x="1152.2" y="200.3" width="60.9" height="63.9" rx="7" ry="7" fill="none" stroke="#000" stroke-width="2.0"/>
<rect x="1158.0" y="206.1" width="49.7" height="52.5" rx="5.5" ry="5.5" fill="none" stroke="#000" stroke-width="2.0"/>
<rect x="1221.9" y="200.3" width="60.9" height="63.9" rx="7" ry="7" fill="none" stroke="#000" stroke-width="2.0"/>
<rect x="1226.4" y="203.3" width="44.7" height="27.5" rx="4.5" ry="4.5" fill="none" stroke="#000" stroke-width="1.5"/>
<rect x="1233.9" y="234.1" width="45.0" height="26.9" rx="4.5" ry="4.5" fill="none" stroke="#000" stroke-width="1.5"/>
<circle cx="1248.2" cy="217.0" r="13.6" fill="#fff" stroke="#000" stroke-width="1.8"/>
<text class="c" x="1248.2" y="224.1" font-size="20" text-anchor="middle">3</text>
<rect x="1292.3" y="200.3" width="60.9" height="63.9" rx="7" ry="7" fill="none" stroke="#000" stroke-width="2.0"/>
<rect x="1296.8" y="203.3" width="44.7" height="27.5" rx="4.5" ry="4.5" fill="none" stroke="#000" stroke-width="1.5"/>
<rect x="1304.3" y="234.1" width="45.0" height="26.9" rx="4.5" ry="4.5" fill="none" stroke="#000" stroke-width="1.5"/>
<circle cx="1318.6" cy="217.0" r="13.6" fill="#fff" stroke="#000" stroke-width="1.8"/>
<text class="c" x="1318.6" y="224.1" font-size="20" text-anchor="middle">4</text>
<circle cx="1326.9" cy="246.3" r="13.6" fill="#fff" stroke="#000" stroke-width="1.8"/>
<text class="c" x="1326.9" y="253.4" font-size="20" text-anchor="middle">5</text>
<rect x="1361.6" y="200.3" width="61.5" height="63.9" rx="7" ry="7" fill="none" stroke="#000" stroke-width="2.0"/>
<rect x="1367.4" y="206.1" width="50.3" height="52.5" rx="5.5" ry="5.5" fill="none" stroke="#000" stroke-width="2.0"/>
<circle cx="1392.6" cy="232.0" r="13.6" fill="#fff" stroke="#000" stroke-width="1.8"/>
<text class="c" x="1392.6" y="239.1" font-size="20" text-anchor="middle">6</text>
<rect x="1152.2" y="270.7" width="60.9" height="64.0" rx="7" ry="7" fill="none" stroke="#000" stroke-width="2.0"/>
<rect x="1156.7" y="273.7" width="44.7" height="27.5" rx="4.5" ry="4.5" fill="none" stroke="#000" stroke-width="1.5"/>
<rect x="1164.2" y="304.5" width="45.0" height="27.0" rx="4.5" ry="4.5" fill="none" stroke="#000" stroke-width="1.5"/>
<circle cx="1178.2" cy="286.9" r="13.6" fill="#fff" stroke="#000" stroke-width="1.8"/>
<text class="c" x="1178.2" y="294.0" font-size="20" text-anchor="middle">7</text>
<rect x="1221.9" y="270.7" width="60.9" height="64.0" rx="7" ry="7" fill="none" stroke="#000" stroke-width="2.0"/>
<rect x="1227.7" y="276.5" width="49.7" height="52.6" rx="5.5" ry="5.5" fill="none" stroke="#000" stroke-width="2.0"/>
<circle cx="1252.9" cy="302.9" r="13.6" fill="#fff" stroke="#000" stroke-width="1.8"/>
<text class="c" x="1252.9" y="310.0" font-size="20" text-anchor="middle">6</text>
<rect x="1292.3" y="270.7" width="60.9" height="64.0" rx="7" ry="7" fill="none" stroke="#000" stroke-width="2.0"/>
<rect x="1296.8" y="273.7" width="44.7" height="27.5" rx="4.5" ry="4.5" fill="none" stroke="#000" stroke-width="1.5"/>
<rect x="1304.3" y="304.5" width="45.0" height="27.0" rx="4.5" ry="4.5" fill="none" stroke="#000" stroke-width="1.5"/>
<circle cx="1318.6" cy="286.9" r="13.6" fill="#fff" stroke="#000" stroke-width="1.8"/>
<text class="c" x="1318.6" y="294.0" font-size="20" text-anchor="middle">8</text>
<circle cx="1326.9" cy="317.7" r="13.6" fill="#fff" stroke="#000" stroke-width="1.8"/>
<text class="c" x="1326.9" y="324.8" font-size="20" text-anchor="middle">9</text>
<rect x="1361.6" y="270.7" width="61.5" height="64.0" rx="7" ry="7" fill="none" stroke="#000" stroke-width="2.0"/>
<rect x="1366.1" y="273.7" width="44.7" height="27.5" rx="4.5" ry="4.5" fill="none" stroke="#000" stroke-width="1.5"/>
<rect x="1373.6" y="304.5" width="45.0" height="27.0" rx="4.5" ry="4.5" fill="none" stroke="#000" stroke-width="1.5"/>
<circle cx="1387.8" cy="287.9" r="13.6" fill="#fff" stroke="#000" stroke-width="1.8"/>
<text class="c" x="1387.8" y="295.0" font-size="20" text-anchor="middle" textLength="21" lengthAdjust="spacingAndGlyphs">10</text>
<circle cx="1396.2" cy="318.4" r="13.6" fill="#fff" stroke="#000" stroke-width="1.8"/>
<text class="c" x="1396.2" y="325.5" font-size="20" text-anchor="middle" textLength="21" lengthAdjust="spacingAndGlyphs">11</text>
<rect x="1432.0" y="264.2" width="53.2" height="70.9" rx="7" ry="7" fill="none" stroke="#000" stroke-width="2.0"/>
<rect x="1436.3" y="271.4" width="19.6" height="57.3" rx="4.5" ry="4.5" fill="none" stroke="#000" stroke-width="1.5"/>
<rect x="1459.4" y="271.4" width="21.5" height="57.3" rx="4.5" ry="4.5" fill="none" stroke="#000" stroke-width="1.5"/>
<circle cx="1443.9" cy="300.0" r="13.6" fill="#fff" stroke="#000" stroke-width="1.8"/>
<text class="c" x="1443.9" y="307.1" font-size="20" text-anchor="middle" textLength="21" lengthAdjust="spacingAndGlyphs">19</text>
<circle cx="1471.8" cy="300.0" r="13.6" fill="#fff" stroke="#000" stroke-width="1.8"/>
<text class="c" x="1471.8" y="307.1" font-size="20" text-anchor="middle" textLength="21" lengthAdjust="spacingAndGlyphs">19</text>
<line x1="1230.3" y1="502" x2="1230.3" y2="506" stroke="#fff" stroke-width="9"/>
<line x1="1230.3" y1="422" x2="1230.3" y2="426" stroke="#fff" stroke-width="9"/>
<line x1="1460.5" y1="502" x2="1460.5" y2="506" stroke="#fff" stroke-width="9"/>
<line x1="1460.5" y1="422" x2="1460.5" y2="426" stroke="#fff" stroke-width="9"/>
<path d="M1250.4,402.7 L1230.3,402.7 L1230.3,533" fill="none" stroke="#000" stroke-width="1.5" />
<line x1="1460.5" y1="417.0" x2="1460.5" y2="533.0" stroke="#000" stroke-width="1.5"/>
<circle cx="1230.3" cy="546.4" r="13.6" fill="#fff" stroke="#000" stroke-width="1.8"/>
<text class="c" x="1230.3" y="553.5" font-size="20" text-anchor="middle" textLength="19" lengthAdjust="spacingAndGlyphs">16</text>
<circle cx="1460.5" cy="546.4" r="13.6" fill="#fff" stroke="#000" stroke-width="1.8"/>
<text class="c" x="1460.5" y="553.5" font-size="20" text-anchor="middle" textLength="21" lengthAdjust="spacingAndGlyphs">14</text>
</g>
<g id="lower-box">
<rect x="723.4" y="551.2" width="463.5" height="488.3" fill="none" stroke="#000" stroke-width="1.5"/>
<line x1="723.4" y1="831.5" x2="1186.9" y2="831.5" stroke="#000" stroke-width="2.0"/>
<line x1="723.4" y1="900.8" x2="1186.9" y2="900.8" stroke="#000" stroke-width="2.0"/>
<line x1="723.4" y1="973.2" x2="1186.9" y2="973.2" stroke="#000" stroke-width="2.0"/>
<line x1="770.8" y1="831.5" x2="770.8" y2="1039.5" stroke="#000" stroke-width="2.0"/>
<line x1="954.7" y1="831.5" x2="954.7" y2="1039.5" stroke="#000" stroke-width="2.0"/>
<line x1="1001.4" y1="831.5" x2="1001.4" y2="1039.5" stroke="#000" stroke-width="2.0"/>
<path d="M750.6,569.2 L1162.7,569.2 Q1172.7,569.2 1172.7,579.2 L1172.7,801.4 Q1172.7,811.4 1162.7,811.4 L750.6,811.4 Q740.6,811.4 740.6,801.4 L740.6,754.7 L745.2,754.7 L745.2,722.4 L740.6,722.4 L740.6,579.2 Q740.6,569.2 750.6,569.2 Z" fill="none" stroke="#000" stroke-width="1.9" />
<rect x="763.8" y="574.7" width="157.7" height="37.7" rx="4" ry="4" fill="none" stroke="#000" stroke-width="2.0"/>
<rect x="746.0" y="658.2" width="210.8" height="46.1" rx="4" ry="4" fill="none" stroke="#000" stroke-width="2.0"/>
<rect x="751.2" y="714.9" width="161.3" height="47.3" rx="4" ry="4" fill="none" stroke="#000" stroke-width="2.0"/>
<rect x="917.9" y="714.9" width="161.3" height="47.3" rx="4" ry="4" fill="none" stroke="#000" stroke-width="2.0"/>
<rect x="1085.9" y="714.9" width="70.8" height="47.3" rx="4" ry="4" fill="none" stroke="#000" stroke-width="2.0"/>
<rect x="962.2" y="584.1" width="30.6" height="32.0" rx="3.5" ry="3.5" fill="none" stroke="#000" stroke-width="1.8"/>
<line x1="962.2" y1="584.3" x2="967.7" y2="589.8" stroke="#000" stroke-width="1.6"/>
<line x1="992.8" y1="584.3" x2="987.3" y2="589.8" stroke="#000" stroke-width="1.6"/>
<line x1="962.2" y1="614.9" x2="967.7" y2="609.4" stroke="#000" stroke-width="1.6"/>
<line x1="992.8" y1="614.9" x2="987.3" y2="609.4" stroke="#000" stroke-width="1.6"/>
<circle cx="977.5" cy="600.1" r="13.3" fill="#fff" stroke="#000" stroke-width="1.8"/>
<text class="c" x="977.5" y="606.3" font-size="17.5" text-anchor="middle">C</text>
<rect x="1001.4" y="584.1" width="30.6" height="32.0" rx="3.5" ry="3.5" fill="none" stroke="#000" stroke-width="1.8"/>
<line x1="1001.4" y1="584.3" x2="1006.9" y2="589.8" stroke="#000" stroke-width="1.6"/>
<line x1="1032.0" y1="584.3" x2="1026.5" y2="589.8" stroke="#000" stroke-width="1.6"/>
<line x1="1001.4" y1="614.9" x2="1006.9" y2="609.4" stroke="#000" stroke-width="1.6"/>
<line x1="1032.0" y1="614.9" x2="1026.5" y2="609.4" stroke="#000" stroke-width="1.6"/>
<circle cx="1016.7" cy="600.1" r="13.3" fill="#fff" stroke="#000" stroke-width="1.8"/>
<text class="c" x="1016.7" y="606.3" font-size="17.5" text-anchor="middle">D</text>
<rect x="1047.3" y="584.3" width="30.0" height="31.2" rx="4.5" ry="4.5" fill="none" stroke="#000" stroke-width="1.5"/>
<rect x="1091.0" y="584.1" width="30.6" height="32.0" rx="3.5" ry="3.5" fill="none" stroke="#000" stroke-width="1.8"/>
<line x1="1091.0" y1="584.3" x2="1096.5" y2="589.8" stroke="#000" stroke-width="1.6"/>
<line x1="1121.6" y1="584.3" x2="1116.1" y2="589.8" stroke="#000" stroke-width="1.6"/>
<line x1="1091.0" y1="614.9" x2="1096.5" y2="609.4" stroke="#000" stroke-width="1.6"/>
<line x1="1121.6" y1="614.9" x2="1116.1" y2="609.4" stroke="#000" stroke-width="1.6"/>
<circle cx="1106.3" cy="600.1" r="13.3" fill="#fff" stroke="#000" stroke-width="1.8"/>
<text class="c" x="1106.3" y="606.3" font-size="17.5" text-anchor="middle">F</text>
<rect x="962.2" y="627.2" width="30.6" height="32.0" rx="3.5" ry="3.5" fill="none" stroke="#000" stroke-width="1.8"/>
<line x1="962.2" y1="627.4" x2="967.7" y2="632.9" stroke="#000" stroke-width="1.6"/>
<line x1="992.8" y1="627.4" x2="987.3" y2="632.9" stroke="#000" stroke-width="1.6"/>
<line x1="962.2" y1="658.0" x2="967.7" y2="652.5" stroke="#000" stroke-width="1.6"/>
<line x1="992.8" y1="658.0" x2="987.3" y2="652.5" stroke="#000" stroke-width="1.6"/>
<circle cx="977.5" cy="643.2" r="13.3" fill="#fff" stroke="#000" stroke-width="1.8"/>
<text class="c" x="977.5" y="649.4" font-size="17.5" text-anchor="middle">D</text>
<rect x="1001.4" y="627.2" width="30.6" height="32.0" rx="3.5" ry="3.5" fill="none" stroke="#000" stroke-width="1.8"/>
<line x1="1001.4" y1="627.4" x2="1006.9" y2="632.9" stroke="#000" stroke-width="1.6"/>
<line x1="1032.0" y1="627.4" x2="1026.5" y2="632.9" stroke="#000" stroke-width="1.6"/>
<line x1="1001.4" y1="658.0" x2="1006.9" y2="652.5" stroke="#000" stroke-width="1.6"/>
<line x1="1032.0" y1="658.0" x2="1026.5" y2="652.5" stroke="#000" stroke-width="1.6"/>
<circle cx="1016.7" cy="643.2" r="13.3" fill="#fff" stroke="#000" stroke-width="1.8"/>
<text class="c" x="1016.7" y="649.4" font-size="17.5" text-anchor="middle">F</text>
<rect x="1047.3" y="627.2" width="30.6" height="32.0" rx="3.5" ry="3.5" fill="none" stroke="#000" stroke-width="1.8"/>
<line x1="1047.3" y1="627.4" x2="1052.8" y2="632.9" stroke="#000" stroke-width="1.6"/>
<line x1="1077.9" y1="627.4" x2="1072.4" y2="632.9" stroke="#000" stroke-width="1.6"/>
<line x1="1047.3" y1="658.0" x2="1052.8" y2="652.5" stroke="#000" stroke-width="1.6"/>
<line x1="1077.9" y1="658.0" x2="1072.4" y2="652.5" stroke="#000" stroke-width="1.6"/>
<circle cx="1062.6" cy="643.2" r="13.3" fill="#fff" stroke="#000" stroke-width="1.8"/>
<text class="c" x="1062.6" y="649.4" font-size="17.5" text-anchor="middle">F</text>
<rect x="1091.0" y="627.2" width="30.6" height="32.0" rx="3.5" ry="3.5" fill="none" stroke="#000" stroke-width="1.8"/>
<line x1="1091.0" y1="627.4" x2="1096.5" y2="632.9" stroke="#000" stroke-width="1.6"/>
<line x1="1121.6" y1="627.4" x2="1116.1" y2="632.9" stroke="#000" stroke-width="1.6"/>
<line x1="1091.0" y1="658.0" x2="1096.5" y2="652.5" stroke="#000" stroke-width="1.6"/>
<line x1="1121.6" y1="658.0" x2="1116.1" y2="652.5" stroke="#000" stroke-width="1.6"/>
<circle cx="1106.3" cy="643.2" r="13.3" fill="#fff" stroke="#000" stroke-width="1.8"/>
<text class="c" x="1106.3" y="649.4" font-size="17.5" text-anchor="middle">C</text>
<rect x="962.2" y="670.2" width="30.6" height="32.0" rx="3.5" ry="3.5" fill="none" stroke="#000" stroke-width="1.8"/>
<line x1="962.2" y1="670.4" x2="967.7" y2="675.9" stroke="#000" stroke-width="1.6"/>
<line x1="992.8" y1="670.4" x2="987.3" y2="675.9" stroke="#000" stroke-width="1.6"/>
<line x1="962.2" y1="701.0" x2="967.7" y2="695.5" stroke="#000" stroke-width="1.6"/>
<line x1="992.8" y1="701.0" x2="987.3" y2="695.5" stroke="#000" stroke-width="1.6"/>
<circle cx="977.5" cy="686.2" r="13.3" fill="#fff" stroke="#000" stroke-width="1.8"/>
<text class="c" x="977.5" y="692.4" font-size="17.5" text-anchor="middle">F</text>
<rect x="1001.4" y="670.2" width="30.6" height="32.0" rx="3.5" ry="3.5" fill="none" stroke="#000" stroke-width="1.8"/>
<line x1="1001.4" y1="670.4" x2="1006.9" y2="675.9" stroke="#000" stroke-width="1.6"/>
<line x1="1032.0" y1="670.4" x2="1026.5" y2="675.9" stroke="#000" stroke-width="1.6"/>
<line x1="1001.4" y1="701.0" x2="1006.9" y2="695.5" stroke="#000" stroke-width="1.6"/>
<line x1="1032.0" y1="701.0" x2="1026.5" y2="695.5" stroke="#000" stroke-width="1.6"/>
<circle cx="1016.7" cy="686.2" r="13.3" fill="#fff" stroke="#000" stroke-width="1.8"/>
<text class="c" x="1016.7" y="692.4" font-size="17.5" text-anchor="middle">C</text>
<rect x="1047.3" y="670.2" width="30.6" height="32.0" rx="3.5" ry="3.5" fill="none" stroke="#000" stroke-width="1.8"/>
<line x1="1047.3" y1="670.4" x2="1052.8" y2="675.9" stroke="#000" stroke-width="1.6"/>
<line x1="1077.9" y1="670.4" x2="1072.4" y2="675.9" stroke="#000" stroke-width="1.6"/>
<line x1="1047.3" y1="701.0" x2="1052.8" y2="695.5" stroke="#000" stroke-width="1.6"/>
<line x1="1077.9" y1="701.0" x2="1072.4" y2="695.5" stroke="#000" stroke-width="1.6"/>
<circle cx="1062.6" cy="686.2" r="13.3" fill="#fff" stroke="#000" stroke-width="1.8"/>
<text class="c" x="1062.6" y="692.4" font-size="17.5" text-anchor="middle">E</text>
<rect x="1091.0" y="670.2" width="30.6" height="32.0" rx="3.5" ry="3.5" fill="none" stroke="#000" stroke-width="1.8"/>
<line x1="1091.0" y1="670.4" x2="1096.5" y2="675.9" stroke="#000" stroke-width="1.6"/>
<line x1="1121.6" y1="670.4" x2="1116.1" y2="675.9" stroke="#000" stroke-width="1.6"/>
<line x1="1091.0" y1="701.0" x2="1096.5" y2="695.5" stroke="#000" stroke-width="1.6"/>
<line x1="1121.6" y1="701.0" x2="1116.1" y2="695.5" stroke="#000" stroke-width="1.6"/>
<circle cx="1106.3" cy="686.2" r="13.3" fill="#fff" stroke="#000" stroke-width="1.8"/>
<text class="c" x="1106.3" y="692.4" font-size="17.5" text-anchor="middle">F</text>
<rect x="1129.6" y="670.2" width="30.6" height="32.0" rx="3.5" ry="3.5" fill="none" stroke="#000" stroke-width="1.8"/>
<line x1="1129.6" y1="670.4" x2="1135.1" y2="675.9" stroke="#000" stroke-width="1.6"/>
<line x1="1160.2" y1="670.4" x2="1154.7" y2="675.9" stroke="#000" stroke-width="1.6"/>
<line x1="1129.6" y1="701.0" x2="1135.1" y2="695.5" stroke="#000" stroke-width="1.6"/>
<line x1="1160.2" y1="701.0" x2="1154.7" y2="695.5" stroke="#000" stroke-width="1.6"/>
<circle cx="1144.9" cy="686.2" r="13.3" fill="#fff" stroke="#000" stroke-width="1.8"/>
<text class="c" x="1144.9" y="692.4" font-size="17.5" text-anchor="middle">B</text>
<rect x="763.2" y="770.9" width="30.0" height="31.2" rx="4.5" ry="4.5" fill="none" stroke="#000" stroke-width="1.5"/>
<rect x="815.4" y="770.9" width="30.0" height="31.2" rx="4.5" ry="4.5" fill="none" stroke="#000" stroke-width="1.5"/>
<rect x="867.9" y="770.7" width="30.6" height="32.0" rx="3.5" ry="3.5" fill="none" stroke="#000" stroke-width="1.8"/>
<line x1="867.9" y1="770.9" x2="873.4" y2="776.4" stroke="#000" stroke-width="1.6"/>
<line x1="898.5" y1="770.9" x2="893.0" y2="776.4" stroke="#000" stroke-width="1.6"/>
<line x1="867.9" y1="801.5" x2="873.4" y2="796.0" stroke="#000" stroke-width="1.6"/>
<line x1="898.5" y1="801.5" x2="893.0" y2="796.0" stroke="#000" stroke-width="1.6"/>
<circle cx="883.2" cy="786.7" r="13.3" fill="#fff" stroke="#000" stroke-width="1.8"/>
<text class="c" x="883.2" y="792.9" font-size="17.5" text-anchor="middle">C</text>
<rect x="953.2" y="770.9" width="30.0" height="31.2" rx="4.5" ry="4.5" fill="none" stroke="#000" stroke-width="1.5"/>
<rect x="999.9" y="770.7" width="30.6" height="32.0" rx="3.5" ry="3.5" fill="none" stroke="#000" stroke-width="1.8"/>
<line x1="999.9" y1="770.9" x2="1005.4" y2="776.4" stroke="#000" stroke-width="1.6"/>
<line x1="1030.5" y1="770.9" x2="1025.0" y2="776.4" stroke="#000" stroke-width="1.6"/>
<line x1="999.9" y1="801.5" x2="1005.4" y2="796.0" stroke="#000" stroke-width="1.6"/>
<line x1="1030.5" y1="801.5" x2="1025.0" y2="796.0" stroke="#000" stroke-width="1.6"/>
<circle cx="1015.2" cy="786.7" r="13.3" fill="#fff" stroke="#000" stroke-width="1.8"/>
<text class="c" x="1015.2" y="792.9" font-size="17.5" text-anchor="middle">C</text>
<rect x="1045.7" y="770.7" width="30.6" height="32.0" rx="3.5" ry="3.5" fill="none" stroke="#000" stroke-width="1.8"/>
<line x1="1045.7" y1="770.9" x2="1051.2" y2="776.4" stroke="#000" stroke-width="1.6"/>
<line x1="1076.3" y1="770.9" x2="1070.8" y2="776.4" stroke="#000" stroke-width="1.6"/>
<line x1="1045.7" y1="801.5" x2="1051.2" y2="796.0" stroke="#000" stroke-width="1.6"/>
<line x1="1076.3" y1="801.5" x2="1070.8" y2="796.0" stroke="#000" stroke-width="1.6"/>
<circle cx="1061.0" cy="786.7" r="13.3" fill="#fff" stroke="#000" stroke-width="1.8"/>
<text class="c" x="1061.0" y="792.9" font-size="17.5" text-anchor="middle">C</text>
<rect x="1091.9" y="770.9" width="30.0" height="31.2" rx="4.5" ry="4.5" fill="none" stroke="#000" stroke-width="1.5"/>
<circle cx="748.8" cy="867.6" r="14.0" fill="#fff" stroke="#000" stroke-width="1.4"/>
<text class="c" x="748.8" y="874.0" font-size="18" text-anchor="middle">B</text>
<circle cx="748.8" cy="936.1" r="14.0" fill="#fff" stroke="#000" stroke-width="1.4"/>
<text class="c" x="748.8" y="942.5" font-size="18" text-anchor="middle">C</text>
<circle cx="748.8" cy="1003.9" r="14.0" fill="#fff" stroke="#000" stroke-width="1.4"/>
<text class="c" x="748.8" y="1010.3" font-size="18" text-anchor="middle">D</text>
<circle cx="976.7" cy="867.6" r="14.0" fill="#fff" stroke="#000" stroke-width="1.4"/>
<text class="c" x="976.7" y="874.0" font-size="18" text-anchor="middle">E</text>
<circle cx="976.7" cy="936.1" r="14.0" fill="#fff" stroke="#000" stroke-width="1.4"/>
<text class="c" x="976.7" y="942.5" font-size="18" text-anchor="middle">F</text>
<text x="873.3" y="871.6" font-size="24.6" font-weight="bold" textLength="69.5" lengthAdjust="spacingAndGlyphs" text-anchor="start">82660B</text>
<text x="877.8" y="944.8" font-size="24.6" font-weight="bold" textLength="70.0" lengthAdjust="spacingAndGlyphs" text-anchor="start">82660C</text>
<text x="877.8" y="1016.4" font-size="24.6" font-weight="bold" textLength="70.0" lengthAdjust="spacingAndGlyphs" text-anchor="start">82660D</text>
<text x="1105.4" y="874.6" font-size="24.6" font-weight="bold" textLength="70.0" lengthAdjust="spacingAndGlyphs" text-anchor="start">82660E</text>
<text x="1105.4" y="945.6" font-size="24.6" font-weight="bold" textLength="68.5" lengthAdjust="spacingAndGlyphs" text-anchor="start">82660F</text>
<line x1="823.5" y1="863.7" x2="871.8" y2="863.7" stroke="#000" stroke-width="1.6"/>
<line x1="829.0" y1="936.0" x2="874.8" y2="936.0" stroke="#000" stroke-width="1.6"/>
<line x1="829.0" y1="1008.4" x2="874.8" y2="1008.4" stroke="#000" stroke-width="1.6"/>
<line x1="1057.2" y1="866.7" x2="1104.5" y2="866.7" stroke="#000" stroke-width="1.6"/>
<line x1="1057.2" y1="936.0" x2="1104.5" y2="936.0" stroke="#000" stroke-width="1.6"/>
</g>
<g transform="translate(775,840) scale(0.125)" fill="none" stroke="#000" stroke-width="14.5" stroke-linejoin="round" stroke-linecap="round">
<path d="M128,108 L178,92 L196,128 L238,158 L246,150 L246,76 L285,62 L385,120 L385,325 L225,385 L126,322 Z" fill="#fff"/>
<path d="M262,82 L266,185 L290,235 L330,135 L350,125"/>
<path d="M285,92 L292,215"/>
<path d="M140,250 L172,250 L176,300 L206,312 L206,266 L232,274 L230,382"/>
<path d="M150,262 L152,312 L185,330"/>
<path d="M196,128 L200,150"/>
</g>
<g transform="translate(775,840) scale(0.125)" fill="none" stroke="#000" stroke-width="14.5" stroke-linejoin="round" stroke-linecap="round">
<path d="M55,680 L128,660 L135,635 L225,605 L288,640 L330,630 L375,665 L378,690 L425,715 L425,870 L355,900 L355,935 L260,965 L220,942 L215,900 L135,897 L60,875 Z" fill="#fff"/>
<path d="M150,682 L150,882 L215,900"/>
<path d="M150,682 L225,655 L300,660 L360,700"/>
<path d="M128,660 L150,682"/>
<path d="M228,745 L228,940" stroke-width="18"/>
<path d="M228,745 L290,730 L350,720 L375,690"/>
<path d="M252,790 L252,950"/>
<path d="M375,690 L378,880 L355,900"/>
<path d="M80,695 L80,868 M100,690 L100,875" stroke-width="7" stroke-dasharray="8 8"/>
<path d="M400,715 L400,870" stroke-width="7" stroke-dasharray="8 8"/>
<path d="M170,710 L215,705 M260,705 L300,735 M290,700 L330,715 M235,660 L250,640 M300,645 L340,690"/>
<path d="M255,765 L290,770"/>
</g>
<g transform="translate(774.5,907) scale(0.125)" fill="none" stroke="#000" stroke-width="14.5" stroke-linejoin="round" stroke-linecap="round">
<path d="M55,680 L128,660 L135,635 L225,605 L288,640 L330,630 L375,665 L378,690 L425,715 L425,870 L355,900 L355,935 L260,965 L220,942 L215,900 L135,897 L60,875 Z" fill="#fff"/>
<path d="M150,682 L150,882 L215,900"/>
<path d="M150,682 L225,655 L300,660 L360,700"/>
<path d="M128,660 L150,682"/>
<path d="M228,745 L228,940" stroke-width="18"/>
<path d="M228,745 L290,730 L350,720 L375,690"/>
<path d="M252,790 L252,950"/>
<path d="M375,690 L378,880 L355,900"/>
<path d="M80,695 L80,868 M100,690 L100,875" stroke-width="7" stroke-dasharray="8 8"/>
<path d="M400,715 L400,870" stroke-width="7" stroke-dasharray="8 8"/>
<path d="M170,710 L215,705 M260,705 L300,735 M290,700 L330,715 M235,660 L250,640 M300,645 L340,690"/>
<path d="M255,765 L290,770"/>
</g>
<g transform="translate(1000,833) scale(0.125)" fill="none" stroke="#000" stroke-width="14.5" stroke-linejoin="round" stroke-linecap="round">
<path d="M85,200 L128,192 L132,172 L160,168 L162,128 L200,108 L250,92 L265,40 L425,150 L432,185 L460,208 L462,440 L422,440 L415,420 L390,452 L225,515 L85,420 Z" fill="#fff"/>
<path d="M85,200 L130,240 L145,205 L200,250 L215,262 L240,272 L270,252 L300,240 L345,215 L372,242 L376,452"/>
<path d="M208,265 L208,470" stroke-width="14"/>
<path d="M250,92 L300,120 L345,215"/>
<path d="M162,128 L215,170 M200,108 L260,150 M180,190 L240,215 M230,130 L290,175 M190,230 L260,200 M270,220 L330,170 M300,150 L360,160 M240,100 L280,140"/>
<path d="M395,208 L398,440 M395,208 L432,185 M440,215 L440,300 L415,330 L415,420"/>
<path d="M455,215 L455,435" stroke-width="7" stroke-dasharray="8 8"/>
</g>
<g transform="translate(1000.6,904) scale(0.125)" fill="none" stroke="#000" stroke-width="14.5" stroke-linejoin="round" stroke-linecap="round">
<path d="M85,200 L128,192 L132,172 L160,168 L162,128 L200,108 L250,92 L265,40 L425,150 L432,185 L460,208 L462,440 L422,440 L415,420 L390,452 L225,515 L85,420 Z" fill="#fff"/>
<path d="M85,200 L130,240 L145,205 L200,250 L215,262 L240,272 L270,252 L300,240 L345,215 L372,242 L376,452"/>
<path d="M208,265 L208,470" stroke-width="14"/>
<path d="M250,92 L300,120 L345,215"/>
<path d="M162,128 L215,170 M200,108 L260,150 M180,190 L240,215 M230,130 L290,175 M190,230 L260,200 M270,220 L330,170 M300,150 L360,160 M240,100 L280,140"/>
<path d="M395,208 L398,440 M395,208 L432,185 M440,215 L440,300 L415,330 L415,420"/>
<path d="M455,215 L455,435" stroke-width="7" stroke-dasharray="8 8"/>
</g>
<g id="car" fill="none" stroke="#000" stroke-width="1.9" stroke-linecap="butt" stroke-linejoin="round">
<path d="M148.8,27.5 C147.7,31.7 145.0,42.1 142.5,52.5 C140.0,62.9 135.2,83.8 133.8,90.0"/>
<path d="M133.8,90.0 C132.3,96.7 127.5,116.7 125.0,130.0 C122.5,143.3 120.5,156.7 118.8,170.0 C117.0,183.3 115.3,197.5 114.5,210.0 C113.7,222.5 113.9,239.2 113.8,245.0" stroke-dasharray="9 4"/>
<path d="M113.8,180.0 C113.8,184.2 113.5,196.7 113.8,205.0 C114.0,213.3 114.8,225.8 115.0,230.0" stroke-dasharray="9 4"/>
<path d="M115.0,230.0 C115.2,234.2 115.5,245.4 116.2,255.0 C117.0,264.6 118.0,277.5 119.2,287.5 C120.5,297.5 122.0,307.9 123.8,315.0 C125.5,322.1 127.7,325.4 130.0,330.0 C132.3,334.6 136.2,340.4 137.5,342.5"/>
<path d="M137.5,342.5 L147.5,351.2" stroke-dasharray="9 4"/>
<path d="M159.2,27.5 C157.9,34.6 154.0,55.4 151.2,70.0 C148.5,84.6 145.2,100.0 142.5,115.0 C139.8,130.0 136.9,145.8 135.0,160.0 C133.1,174.2 132.1,187.5 131.2,200.0 C130.4,212.5 130.2,229.2 130.0,235.0" stroke-dasharray="9 4"/>
<path d="M165.5,28.8 C164.6,35.6 162.4,54.8 160.0,70.0 C157.6,85.2 153.8,104.2 151.2,120.0 C148.8,135.8 146.9,150.0 145.0,165.0 C143.1,180.0 141.3,196.7 140.0,210.0 C138.7,223.3 137.5,239.2 137.0,245.0" stroke-dasharray="9 4"/>
<path d="M170.0,31.2 C170.1,32.5 171.1,32.7 170.6,38.8 C170.1,44.8 168.3,57.7 166.9,67.5 C165.4,77.3 163.3,89.2 161.9,97.5 C160.4,105.8 158.8,114.2 158.1,117.5"/>
<path d="M152.5,160.0 C151.9,165.8 149.8,185.8 148.8,195.0 C147.7,204.2 146.7,211.7 146.2,215.0"/>
<path d="M170.0,31.2 C172.1,31.0 178.4,30.8 182.5,30.0 C186.6,29.2 192.4,26.9 194.4,26.2"/>
<path d="M170.6,38.8 C173.4,38.2 181.4,37.5 187.5,35.6 C193.6,33.8 204.2,29.1 207.5,27.8"/>
<path d="M172.5,61.9 C172.3,61.1 171.4,58.4 171.2,57.5 C171.1,56.6 167.7,58.0 171.9,56.2 C176.0,54.5 189.1,50.0 196.2,46.9 C203.4,43.8 210.2,39.4 215.0,37.5 C219.8,35.6 221.5,35.7 225.0,35.6 C228.5,35.5 234.4,36.7 236.2,36.9"/>
<path d="M241.2,38.1 C242.7,38.4 246.0,39.8 250.0,40.0 C254.0,40.2 256.2,39.8 265.0,39.4 C273.8,39.0 290.2,38.0 302.5,37.5 C314.8,37.0 332.9,36.7 339.0,36.5" stroke-dasharray="9 4"/>
<path d="M339.0,36.5 C349.2,36.5 378.2,36.2 400.0,36.2 C421.8,36.3 458.3,36.7 470.0,36.8" stroke-dasharray="9 4"/>
<path d="M172.5,61.9 L177.5,60.0"/>
<path d="M182.5,58.1 C184.0,57.6 187.5,56.5 191.2,55.0 C195.0,53.5 201.9,50.7 205.0,49.4 C208.1,48.0 209.2,47.3 210.0,46.9" stroke-dasharray="9 4"/>
<path d="M207.5,47.5 C209.6,46.7 216.7,43.4 220.0,42.5 C223.3,41.6 224.6,42.0 227.5,42.2 C230.4,42.5 234.4,43.1 237.5,43.8 C240.6,44.4 241.7,45.7 246.2,46.0 C250.8,46.3 258.1,45.6 265.0,45.4 C271.9,45.1 283.8,44.5 287.5,44.4"/>
<path d="M291.2,43.8 C295.2,43.6 307.0,43.2 315.0,43.0 C323.0,42.8 335.0,42.6 339.0,42.5" stroke-dasharray="9 4"/>
<path d="M339.0,42.5 C349.2,42.5 378.2,42.5 400.0,42.8 C421.8,43.0 458.3,43.6 470.0,43.8" stroke-dasharray="9 4"/>
<path d="M470.0,36.9 C473.1,36.4 483.3,34.6 488.8,33.8 C494.2,32.9 498.3,32.1 502.5,31.9 C506.7,31.6 510.4,32.0 513.8,32.2 C517.1,32.5 520.0,32.7 522.5,33.1 C525.0,33.6 527.7,34.7 528.8,35.0" stroke-dasharray="9 4"/>
<path d="M528.8,35.0 C531.5,36.5 539.4,40.7 545.0,43.8 C550.6,46.8 558.9,51.0 562.5,53.1 C566.1,55.2 566.2,55.1 566.9,56.2 C567.5,57.4 566.8,59.2 566.2,60.0 C565.7,60.8 564.2,61.0 563.8,61.2"/>
<path d="M470.0,43.8 C472.1,43.3 477.7,42.1 482.5,41.2 C487.3,40.4 493.8,39.2 498.8,38.8 C503.8,38.3 510.2,38.8 512.5,38.8"/>
<path d="M516.2,38.8 C517.7,39.1 521.5,39.4 525.0,40.6 C528.5,41.9 533.1,44.0 537.5,46.2 C541.9,48.5 546.9,52.0 551.2,54.4 C555.6,56.8 561.7,59.6 563.8,60.6" stroke-dasharray="9 4"/>
<path d="M522.5,27.5 C523.8,27.8 527.1,28.2 530.0,29.4 C532.9,30.5 536.7,33.0 540.0,34.4 C543.3,35.7 546.8,36.9 550.0,37.5 C553.2,38.1 557.8,38.0 559.4,38.1"/>
<path d="M535.6,25.6 C537.2,26.4 541.8,29.1 545.0,30.0 C548.2,30.9 552.3,30.9 555.0,31.2 C557.7,31.6 560.2,31.8 561.2,31.9"/>
<path d="M561.2,31.9 C560.9,32.9 559.2,34.9 559.4,38.1 C559.6,41.4 562.0,49.1 562.5,51.2"/>
<path d="M564.4,27.5 C565.1,31.5 567.2,43.8 568.8,51.2 C570.3,58.8 572.9,69.0 573.8,72.5"/>
<path d="M573.8,78.8 C574.6,83.5 576.9,95.2 578.8,107.5 C580.6,119.8 584.0,145.0 585.0,152.5" stroke-dasharray="9 4"/>
<path d="M570.0,27.5 C571.0,32.5 574.2,47.1 576.2,57.5 C578.3,67.9 580.7,80.0 582.5,90.0 C584.3,100.0 585.2,107.1 586.9,117.5 C588.5,127.9 591.6,146.7 592.5,152.5"/>
<path d="M580.6,27.5 C581.8,32.5 585.1,47.3 587.5,57.5 C589.9,67.7 592.7,78.8 595.0,88.8 C597.3,98.8 599.3,106.9 601.2,117.5 C603.2,128.1 605.9,146.7 606.9,152.5"/>
<path d="M591.9,75.0 C593.2,78.3 597.4,87.1 600.0,95.0 C602.6,102.9 605.2,112.9 607.5,122.5 C609.8,132.1 612.7,147.5 613.8,152.5"/>
<path d="M585.6,161.2 C586.4,165.2 588.6,177.3 590.0,185.0 C591.4,192.7 593.1,197.5 593.8,207.5 C594.4,217.5 593.8,238.8 593.8,245.0"/>
<path d="M593.8,161.2 C594.4,165.2 596.6,176.0 597.5,185.0 C598.4,194.0 599.2,207.1 599.4,215.0 C599.6,222.9 598.9,229.6 598.8,232.5" stroke-dasharray="9 4"/>
<path d="M607.5,161.2 C608.3,166.9 611.5,185.2 612.5,195.0 C613.5,204.8 613.8,209.7 613.8,220.0 C613.8,230.3 612.7,250.8 612.5,257.0"/>
<path d="M614.4,161.2 C615.0,165.6 617.5,177.7 618.1,187.5 C618.8,197.3 618.6,208.4 618.1,220.0 C617.6,231.6 615.5,250.8 615.0,257.0" stroke-dasharray="9 4"/>
<path d="M211.9,53.1 C212.4,52.6 211.7,50.5 215.0,50.0 C218.3,49.5 228.8,49.6 231.9,50.0 C235.0,50.4 233.1,51.2 233.8,52.5 C234.4,53.8 235.4,54.2 235.6,57.5 C235.8,60.8 235.3,67.9 235.0,72.5 C234.7,77.1 234.2,81.7 233.8,85.0 C233.3,88.3 233.5,90.8 232.5,92.5 C231.5,94.2 229.6,94.2 227.5,95.0 C225.4,95.8 221.2,97.1 220.0,97.5"/>
<path d="M231.9,50.6 L231.9,73.8 L228.8,76.9 L200.0,77.5"/>
<path d="M200.0,61.2 L200.0,77.5 L199.4,88.8 L230.0,88.8 L233.1,85.0"/>
<path d="M211.9,53.1 C211.1,54.3 209.5,58.5 207.5,60.0 C205.5,61.5 202.5,61.5 200.0,61.9 C197.5,62.3 194.4,61.6 192.5,62.5 C190.6,63.4 189.3,64.2 188.8,67.5 C188.2,70.8 188.9,78.1 189.4,82.5 C189.9,86.9 190.5,90.9 191.9,93.8 C193.2,96.6 196.6,98.4 197.5,99.4"/>
<path d="M200.0,63.8 C199.7,65.2 198.5,69.4 198.1,72.5 C197.7,75.6 197.3,79.6 197.5,82.5 C197.7,85.4 198.6,87.3 199.4,90.0 C200.1,92.7 201.5,97.3 201.9,98.8"/>
<ellipse cx="218.5" cy="61.2" rx="7.2" ry="7.0"/>
<path d="M229.4,97.8 C230.9,97.8 235.3,97.6 238.8,98.1 C242.2,98.6 247.9,99.5 250.0,100.6 C252.1,101.8 251.2,103.6 251.2,105.0 C251.2,106.4 250.9,108.3 250.0,109.0 C249.1,109.7 246.4,109.3 245.6,109.4"/>
<path d="M238.8,106.2 C239.5,106.8 242.1,105.8 243.1,109.4 C244.1,112.9 244.5,124.5 244.8,127.5"/>
<path d="M243.8,115.0 L235.6,131.2"/>
<path d="M158.8,117.5 C159.2,114.6 160.1,103.2 161.2,100.0 C162.4,96.8 164.4,98.0 165.6,98.1 C166.9,98.2 168.1,99.6 168.8,100.6 C169.4,101.7 169.3,103.8 169.4,104.4"/>
<path d="M160.0,112.5 L163.1,118.1"/>
<path d="M290.5,51.2 L470.5,50.0" stroke-dasharray="14 4"/>
<path d="M470.5,50.0 L476.2,140.0"/>
<path d="M290.5,51.2 L290.5,72.5 L300.0,85.0 L300.0,141.2"/>
<path d="M292.5,67.5 L302.0,80.0 L302.0,85.0"/>
<path d="M300.0,141.2 L385.0,141.2"/>
<path d="M385.0,141.2 L412.5,141.0" stroke-dasharray="12 5"/>
<path d="M412.5,141.0 L476.2,140.2"/>
<path d="M300.0,87.5 L298.8,137.5" stroke-dasharray="10 4" stroke-width="2.2"/>
<ellipse cx="352.0" cy="144.2" rx="5.2" ry="3.0"/>
<path d="M218.8,136.9 C219.2,136.2 218.5,134.1 221.2,133.1 C224.0,132.2 228.9,131.0 235.0,131.2 C241.1,131.5 252.1,133.1 258.1,134.4 C264.2,135.6 264.9,135.6 271.2,138.8 C277.6,141.9 290.4,149.4 296.2,153.1 C302.1,156.9 303.1,158.9 306.2,161.2 C309.4,163.6 312.7,166.0 315.0,167.5 C317.3,169.0 316.0,169.1 320.0,170.0 C324.0,170.9 335.8,172.6 339.0,173.1"/>
<path d="M218.8,136.9 C219.2,137.4 219.8,139.3 221.2,140.0 C222.7,140.7 226.1,140.4 227.5,141.2 C228.9,142.1 230.6,141.7 229.4,145.0 C228.1,148.3 221.6,158.5 220.0,161.2"/>
<path d="M220.0,161.2 L162.5,167.5"/>
<path d="M229.4,145.0 C229.4,146.0 230.5,147.9 229.4,151.2 C228.2,154.6 221.1,162.6 222.5,165.0 C223.9,167.4 234.3,166.2 237.5,165.6 C240.7,165.0 241.7,163.0 241.9,161.2 C242.1,159.5 239.9,156.5 238.8,155.0 C237.6,153.5 236.6,153.0 235.0,152.5 C233.4,152.0 230.3,152.0 229.4,151.9"/>
<path d="M240.0,161.2 L240.0,168.8" stroke-width="2.5"/>
<path d="M253.8,135.0 C252.9,136.7 250.0,141.2 248.8,145.0 C247.5,148.8 246.9,154.7 246.2,157.5 C245.6,160.3 244.6,160.6 245.0,161.9 C245.4,163.1 246.2,164.0 248.8,165.0 C251.2,166.0 256.7,166.9 260.0,168.1 C263.3,169.4 265.2,170.7 268.8,172.5 C272.3,174.3 278.1,176.9 281.2,178.8 C284.4,180.6 285.6,181.7 287.5,183.8 C289.4,185.8 290.2,188.9 292.5,191.2 C294.8,193.6 297.5,196.7 301.2,198.1 C305.0,199.6 312.7,199.7 315.0,200.0"/>
<path d="M258.1,134.4 C258.9,132.8 260.5,127.4 262.5,125.0 C264.5,122.6 266.9,120.8 270.0,120.0 C273.1,119.2 277.9,119.0 281.2,120.0 C284.6,121.0 287.3,124.1 290.0,126.2 C292.7,128.4 296.2,132.0 297.5,133.1"/>
<path d="M287.5,145.0 C287.9,143.8 288.5,139.5 290.0,137.5 C291.5,135.5 295.2,133.9 296.2,133.1"/>
<path d="M298.8,121.2 L298.1,150.0 L306.2,161.2"/>
<path d="M280.0,166.2 C279.8,167.9 278.8,174.2 278.8,176.2 C278.8,178.3 279.8,178.3 280.0,178.8"/>
<path d="M307.5,165.6 C308.3,166.6 310.8,169.9 312.5,171.2 C314.2,172.6 316.7,173.3 317.5,173.8"/>
<path d="M318.8,172.5 L318.8,200.0"/>
<path d="M323.8,171.9 L323.8,200.0"/>
<path d="M327.5,171.9 L328.8,200.0"/>
<path d="M320.0,170.6 L327.5,170.6"/>
<path d="M160.6,173.8 L196.2,175.6 L230.0,178.1 L236.9,178.1 L238.1,175.0"/>
<path d="M161.2,178.1 L200.0,181.2 L230.0,185.6 L238.8,185.0"/>
<path d="M156.2,160.0 L161.2,160.0 L160.0,184.4 L155.6,184.4Z"/>
<path d="M154.4,157.5 L153.5,180.0"/>
<path d="M250.0,176.9 C250.4,176.6 251.9,174.7 252.5,175.0 C253.1,175.3 253.6,176.9 253.8,178.8 C253.9,180.6 253.8,184.3 253.1,186.2 C252.5,188.2 251.6,189.6 250.0,190.6 C248.4,191.7 245.9,192.3 243.8,192.5 C241.6,192.7 238.0,192.0 236.9,191.9" stroke-width="2"/>
<ellipse cx="265.0" cy="185.0" rx="8.5" ry="8.2"/>
<path d="M276.2,185.0 C276.7,186.7 278.2,192.3 278.8,195.0 C279.3,197.7 279.3,200.2 279.4,201.2"/>
<ellipse cx="288.8" cy="200.0" rx="7.5" ry="6.0"/>
<path d="M271.2,202.5 L273.1,201.2 L280.0,201.2 L280.0,205.0 L277.5,207.5 L272.5,207.5 L271.2,205.0Z" fill="#000"/>
<path d="M254.4,190.0 C254.5,192.5 254.3,201.7 255.0,205.0 C255.7,208.3 256.2,209.2 258.8,210.0 C261.2,210.8 268.1,210.0 270.0,210.0"/>
<path d="M145.6,215.6 L146.9,197.5 L158.8,196.9 L158.8,201.2 L156.2,205.0 L146.9,205.6"/>
<path d="M166.9,215.6 L168.8,193.8 L201.2,193.1"/>
<path d="M170.0,205.6 L201.2,205.6"/>
<path d="M206.2,205.6 L236.9,205.6 L236.9,207.5"/>
<path d="M210.6,192.5 L241.2,192.5 L241.2,213.1"/>
<path d="M243.1,195.0 L247.5,212.5"/>
<path d="M202.5,181.2 C203.4,181.2 206.9,180.2 208.1,181.2 C209.4,182.3 209.9,184.4 210.0,187.5 C210.1,190.6 209.5,196.9 208.8,200.0 C208.0,203.1 206.2,203.6 205.6,206.2 C205.0,208.9 205.1,214.1 205.0,215.6"/>
<path d="M201.9,187.5 L201.2,215.6"/>
<ellipse cx="205.2" cy="187.5" rx="3.0" ry="2.8"/>
<path d="M146.2,215.8 L240.0,215.0 L248.8,213.1 L285.0,212.8" stroke-width="2"/>
<path d="M320.0,167.5 C321.5,168.1 324.6,170.3 328.8,171.2 C332.9,172.2 340.2,172.7 345.0,173.1 C349.8,173.6 353.3,173.1 357.5,174.0 C361.7,174.9 366.9,176.9 370.0,178.8 C373.1,180.6 374.6,182.9 376.2,185.0 C377.9,187.1 379.2,189.2 380.0,191.2 C380.8,193.3 380.6,195.8 381.2,197.5 C381.9,199.2 381.5,200.5 383.8,201.2 C386.0,202.0 386.2,202.0 395.0,201.9 C403.8,201.8 428.8,201.2 436.2,200.6 C443.8,200.0 438.5,200.6 440.0,198.1 C441.5,195.6 444.2,187.7 445.0,185.6" stroke-dasharray="16 4"/>
<path d="M328.8,187.5 C330.4,188.0 334.8,189.9 338.8,190.6 C342.7,191.4 347.9,192.1 352.5,191.9 C357.1,191.7 362.3,190.3 366.2,189.4 C370.2,188.4 374.6,186.8 376.2,186.2"/>
<path d="M320.0,201.2 C322.9,201.4 334.2,201.0 337.5,201.9 C340.8,202.7 337.7,205.5 340.0,206.2 C342.3,207.0 346.2,207.1 351.2,206.2 C356.2,205.4 365.2,202.7 370.0,201.2 C374.8,199.8 378.3,198.1 380.0,197.5"/>
<path d="M378.1,200.0 C378.4,201.0 379.4,204.8 380.0,206.2 C380.6,207.7 381.6,208.3 381.9,208.8"/>
<path d="M451.2,179.4 C450.6,179.9 446.5,180.7 447.5,182.5 C448.5,184.3 454.8,187.7 457.5,190.0 C460.2,192.3 462.1,194.2 463.8,196.2 C465.4,198.3 466.9,200.5 467.5,202.5 C468.1,204.5 467.5,207.2 467.5,208.1"/>
<path d="M440.6,195.0 C441.8,195.8 445.4,198.3 447.5,200.0 C449.6,201.7 452.1,203.6 453.1,205.0 C454.1,206.4 453.4,207.6 453.5,208.1"/>
<path d="M340.0,209.0 L367.5,209.0" stroke-width="2"/>
<path d="M371.2,209.4 L393.8,209.4" stroke-dasharray="9 4"/>
<path d="M397.5,208.8 L468.8,208.8" stroke-width="2"/>
<path d="M468.8,210.0 L492.5,212.5" stroke-width="2.5"/>
<path d="M486.2,194.4 L481.9,210.0"/>
<path d="M285.0,212.8 L347.5,212.5 L348.8,216.2 L345.6,227.5" stroke-width="1.6"/>
<path d="M348.8,216.5 L410.0,216.5" stroke-dasharray="14 3"/>
<path d="M410.0,216.5 L413.8,212.2 L492.5,212.2"/>
<path d="M410.6,216.9 C411.0,218.6 412.6,220.8 413.1,227.5 C413.6,234.2 413.6,252.1 413.8,257.0"/>
<path d="M345.0,231.6 L413.1,231.6" stroke-width="2.2"/>
<path d="M345.0,235.0 L343.8,257.0"/>
<path d="M360.6,244.4 C360.7,245.3 360.3,248.7 361.2,250.0 C362.2,251.3 364.6,252.2 366.2,252.2 C367.9,252.2 370.3,251.3 371.2,250.0 C372.2,248.7 371.8,245.3 371.9,244.4"/>
<path d="M490.6,215.0 C491.4,217.9 493.8,225.5 495.0,232.5 C496.2,239.5 497.6,252.9 498.1,257.0" stroke-dasharray="9 4"/>
<path d="M506.2,150.0 L517.5,145.0 L571.9,145.6 L574.4,152.5 L580.0,170.0 L579.4,180.0 L575.0,187.5 L572.5,195.0 L570.0,197.5 L568.8,190.0 L562.5,186.2 L530.0,185.6 L528.8,182.5 L523.8,181.9 L522.5,185.0 L502.5,185.6 L501.9,175.0 L499.4,170.0 L500.0,163.8Z" fill="#000"/>
<path d="M504.4,191.2 L513.8,191.2 L521.2,201.2 L516.2,202.5 L516.2,205.0 L504.4,205.0Z" fill="#000"/>
<path d="M535.0,191.9 L557.5,191.9 L560.0,205.0 L551.2,205.0 L550.0,200.0 L543.8,200.0 L541.9,201.9 L533.8,201.2 L533.1,195.0Z" fill="#000"/>
<path d="M496.2,186.2 C497.3,186.2 499.8,185.9 502.5,186.2 C505.2,186.6 509.4,187.5 512.5,188.1 C515.6,188.8 519.2,188.0 521.2,190.0 C523.3,192.0 524.0,196.5 525.0,200.0 C526.0,203.5 527.1,209.4 527.5,211.2"/>
<path d="M522.5,185.0 C522.9,185.8 524.0,187.5 525.0,190.0 C526.0,192.5 527.9,196.5 528.8,200.0 C529.6,203.5 529.8,209.4 530.0,211.2"/>
<path d="M528.8,182.5 C529.0,183.8 529.6,187.5 530.0,190.0 C530.4,192.5 531.1,194.0 531.2,197.5 C531.4,201.0 530.7,209.0 530.6,211.2"/>
<path d="M562.5,187.5 C563.1,189.6 565.5,196.0 566.2,200.0 C567.0,204.0 566.8,209.4 566.9,211.2"/>
<path d="M494.4,203.1 L495.6,208.1 L523.8,208.1"/>
<path d="M532.5,208.8 L561.2,208.1"/>
<path d="M470.0,210.0 L482.5,210.0" stroke-width="2.5"/>
<path d="M490.0,213.1 L506.2,213.1" stroke-dasharray="9 4"/>
<path d="M510.0,213.1 L592.5,212.5" stroke-width="1.8"/>
<path d="M486.2,194.4 L481.9,210.0"/>
<path d="M580.6,185.6 C581.4,185.3 583.2,183.9 585.0,183.8 C586.8,183.6 589.6,184.0 591.2,185.0 C592.9,186.0 594.3,188.1 595.0,190.0 C595.7,191.9 596.5,194.4 595.6,196.2 C594.8,198.1 592.0,200.4 590.0,201.2 C588.0,202.1 584.8,201.2 583.8,201.2"/>
<path d="M584.4,205.0 C585.3,205.0 589.2,204.2 590.0,205.0 C590.8,205.8 589.5,209.2 589.4,210.0"/>
<path d="M500.6,220.0 L579.4,220.0"/>
<path d="M579.4,220.0 C579.8,220.3 581.2,221.0 581.6,221.9 C582.0,222.7 582.1,224.0 581.6,225.0 C581.1,226.0 584.0,226.4 578.8,227.8 C573.5,229.1 557.9,232.0 550.0,233.1 C542.1,234.2 534.4,234.2 531.2,234.4"/>
<path d="M525.0,234.0 C521.7,234.0 509.0,234.7 505.0,234.0 C501.0,233.3 502.0,232.3 501.2,230.0 C500.5,227.7 500.7,221.7 500.6,220.0" stroke-dasharray="9 4"/>
<path d="M490.6,215.0 C491.4,217.9 493.8,225.5 495.0,232.5 C496.2,239.5 497.6,252.9 498.1,257.0" stroke-dasharray="9 4"/>
<path d="M555.0,256.2 L591.9,240.0"/>
<path d="M573.8,257.0 L591.2,245.0"/>
<path d="M591.9,248.1 C595.2,245.0 608.5,227.9 611.9,229.4 C615.2,230.9 611.9,252.4 611.9,257.0"/>
<path d="M569.4,236.2 L570.6,240.0"/>
<path d="M235.6,225.0 L235.0,221.9 L155.6,222.5"/>
<path d="M155.6,222.5 C155.3,222.8 153.9,223.6 153.5,224.4 C153.1,225.1 153.0,225.8 153.5,226.9 C154.0,227.9 152.2,229.4 156.2,230.6 C160.2,231.9 170.8,233.5 177.5,234.4 C184.2,235.2 193.1,235.4 196.2,235.6"/>
<path d="M196.2,235.6 C201.5,235.4 221.5,234.9 227.5,234.4 C233.5,233.9 231.4,233.4 232.5,232.5 C233.6,231.6 234.1,229.4 234.4,228.8" stroke-dasharray="9 4"/>
<path d="M248.8,213.8 C247.9,216.2 245.4,224.4 243.8,228.8 C242.1,233.1 239.9,235.3 238.8,240.0 C237.6,244.7 237.2,254.2 236.9,257.0"/>
<path d="M248.8,213.8 C247.3,218.1 242.0,229.8 240.0,240.0 C238.0,250.2 237.5,269.2 237.0,275.0"/>
<path d="M347.5,212.5 C347.3,215.4 346.9,218.1 346.2,230.0 C345.6,241.9 344.2,274.8 343.8,283.8"/>
<path d="M411.2,213.8 C411.5,216.9 412.3,222.7 413.0,232.5 C413.7,242.3 415.1,265.8 415.5,272.5"/>
<path d="M346.2,232.5 L412.5,232.5" stroke-width="2"/>
<path d="M352.5,261.2 L407.5,261.2 L407.5,267.0 L387.5,267.0" stroke-width="1.6"/>
<path d="M352.5,261.2 L352.5,266.2 L365.0,267.0"/>
<path d="M353.8,272.5 C354.4,273.3 355.8,276.9 357.5,277.5 C359.2,278.1 362.5,275.8 363.8,276.2 C365.0,276.7 364.6,279.0 365.0,280.0 C365.4,281.0 365.2,282.1 366.2,282.5 C367.3,282.9 370.4,283.3 371.2,282.5 C372.1,281.7 370.2,278.5 371.2,277.5 C372.3,276.5 376.4,277.3 377.5,276.2 C378.6,275.2 377.9,272.1 378.0,271.2"/>
<path d="M356.2,267.5 C357.3,267.9 361.7,269.0 362.5,270.0 C363.3,271.0 362.5,273.2 361.2,273.8 C360.0,274.2 356.0,273.1 355.0,273.0"/>
<path d="M387.5,290.0 C387.5,287.3 386.9,277.0 387.5,273.8 C388.1,270.5 387.9,271.0 391.2,270.5 C394.6,270.0 404.3,270.0 407.5,270.5 C410.7,271.0 409.9,270.5 410.5,273.8 C411.1,277.0 411.1,287.3 411.2,290.0"/>
<path d="M387.5,290.0 L411.2,290.0" stroke-width="2"/>
<path d="M498.4,250.0 L498.4,274.4"/>
<path d="M498.4,208.8 L495.2,190.0" stroke-dasharray="9 4"/>
<path d="M412.8,250.0 L415.2,273.8"/>
<path d="M117.5,227.5 C119.2,229.2 124.4,234.6 127.5,237.5 C130.6,240.4 134.6,243.5 136.2,245.0 C137.9,246.5 137.3,246.0 137.5,246.2"/>
<path d="M137.5,200.0 L137.0,245.5"/>
<path d="M116.2,223.8 C116.5,228.3 117.1,244.8 117.5,251.2 C117.9,257.7 117.9,258.8 118.8,262.5 C119.6,266.2 121.2,270.2 122.5,273.8 C123.8,277.3 126.0,282.1 126.8,283.8"/>
<path d="M130.0,288.0 C131.2,289.2 135.0,293.0 137.5,295.5 C140.0,298.0 143.8,301.8 145.0,303.0" stroke-dasharray="9 4"/>
<path d="M148.8,305.5 C152.3,307.3 162.3,312.8 170.0,316.2 C177.7,319.7 190.0,324.3 195.0,326.2 C200.0,328.2 199.2,327.7 200.0,328.0"/>
<path d="M141.2,239.2 L165.0,251.2"/>
<path d="M169.2,253.0 L190.0,261.2" stroke-dasharray="9 4"/>
<path d="M193.8,263.0 L200.0,265.5"/>
<path d="M141.2,249.2 C142.7,250.2 147.1,253.0 150.0,255.0 C152.9,257.0 157.3,260.2 158.8,261.2" stroke-dasharray="9 4"/>
<path d="M162.5,263.8 C166.7,265.7 180.4,272.2 187.5,275.5 C194.6,278.8 202.1,282.4 205.0,283.8"/>
<path d="M201.2,270.0 L202.5,282.5"/>
<path d="M200.0,265.0 C202.5,265.8 208.8,268.3 215.0,270.0 C221.2,271.7 227.5,273.4 237.5,275.0 C247.5,276.6 268.8,279.0 275.0,279.8"/>
<path d="M278.8,280.6 L300.0,282.5" stroke-dasharray="9 4"/>
<path d="M303.8,282.8 C310.4,283.0 329.8,284.0 343.8,284.4 C357.7,284.7 380.2,284.7 387.5,284.8"/>
<path d="M411.5,283.8 C417.8,283.1 436.5,281.2 449.0,280.0 C461.5,278.8 480.2,276.9 486.5,276.2"/>
<path d="M490.2,275.6 C491.5,275.5 494.2,275.6 497.8,275.0 C501.3,274.4 509.2,272.4 511.5,271.9" stroke-dasharray="9 4"/>
<path d="M514.6,270.6 C522.4,268.0 551.6,258.4 561.5,255.0 C571.4,251.6 569.8,251.8 574.0,250.0 C578.2,248.2 584.4,245.3 586.5,244.4"/>
<path d="M524.6,271.9 L544.0,265.0 L544.6,272.5 L547.8,273.8"/>
<path d="M524.6,271.9 L525.2,283.8 L546.5,274.4 L589.0,250.0"/>
<path d="M547.8,271.9 C550.9,270.5 560.0,267.0 566.5,263.8 C573.0,260.5 583.2,254.4 586.5,252.5" stroke-dasharray="12 3"/>
<path d="M237.5,285.6 C234.0,284.6 220.7,280.7 216.2,279.8 C211.8,278.8 212.2,279.3 210.6,279.8 C209.1,280.2 207.8,281.4 206.9,282.5 C205.9,283.6 205.5,284.2 205.0,286.2 C204.5,288.3 203.8,291.7 203.8,295.0 C203.8,298.3 204.0,302.5 205.0,306.2 C206.0,310.0 207.7,313.8 210.0,317.5 C212.3,321.2 216.4,325.6 218.8,328.8 C221.1,331.9 223.1,333.8 224.4,336.2 C225.6,338.8 225.3,341.2 226.2,343.8 C227.2,346.2 228.5,349.0 230.0,351.2 C231.5,353.5 233.1,356.0 235.0,357.5 C236.9,359.0 234.8,358.8 241.2,360.0 C247.7,361.2 268.3,364.2 273.8,365.0"/>
<path d="M241.2,286.2 L262.5,290.0" stroke-dasharray="9 4"/>
<path d="M266.2,290.6 C272.5,291.1 290.2,292.7 303.8,293.8 C317.3,294.8 340.2,296.4 347.5,296.9"/>
<path d="M352.5,296.9 C356.2,296.8 367.2,296.5 375.0,296.2 C382.8,296.0 395.0,295.7 399.0,295.6" stroke-dasharray="9 4"/>
<path d="M399.0,295.0 C405.2,294.5 426.1,292.7 436.5,291.9 C446.9,291.0 457.3,290.3 461.5,290.0"/>
<path d="M466.5,289.8 C468.0,289.6 471.7,289.6 475.2,289.0 C478.8,288.4 485.7,286.7 487.8,286.2" stroke-dasharray="9 4"/>
<path d="M491.5,285.6 C496.1,284.5 513.6,279.1 519.0,279.0 C524.4,278.9 522.8,282.8 524.0,285.0 C525.2,287.2 526.0,289.4 526.5,292.5 C527.0,295.6 527.5,300.2 527.1,303.8 C526.7,307.3 525.6,310.4 524.0,313.8 C522.4,317.1 520.0,320.6 517.8,323.8 C515.5,326.9 513.0,330.0 510.2,332.5 C507.5,335.0 504.4,337.1 501.5,338.8 C498.6,340.4 495.5,341.5 492.8,342.5 C490.0,343.5 486.5,344.6 485.2,345.0"/>
<path d="M480.2,346.2 L460.2,350.0" stroke-dasharray="9 4"/>
<path d="M455.2,350.6 L399.0,356.2"/>
<path d="M277.5,365.6 L300.0,367.5" stroke-dasharray="9 4"/>
<path d="M303.8,368.1 L387.5,370.0"/>
<path d="M390.0,370.0 L399.0,369.8" stroke-dasharray="9 4"/>
<path d="M292.5,300.6 C283.3,299.6 249.6,295.9 237.5,294.4 C225.4,292.8 223.6,291.6 220.0,291.2 C216.4,290.9 216.4,291.2 215.6,292.5 C214.9,293.8 215.9,297.3 215.6,298.8 C215.3,300.2 214.1,299.4 213.8,301.2 C213.4,303.1 213.3,307.3 213.8,310.0 C214.2,312.7 214.9,314.6 216.2,317.5 C217.6,320.4 219.8,324.4 221.9,327.5 C224.0,330.6 226.1,334.0 228.8,336.2 C231.4,338.5 233.3,340.0 237.5,341.2 C241.7,342.5 246.5,343.1 253.8,343.8 C261.0,344.4 276.7,344.8 281.2,345.0"/>
<path d="M215.6,298.1 C216.0,298.2 217.7,297.9 218.1,298.8 C218.5,299.6 218.8,302.3 218.1,303.1 C217.5,303.9 215.0,303.4 214.4,303.5"/>
<path d="M297.5,301.5 L318.8,303.1" stroke-dasharray="9 4"/>
<path d="M323.1,303.1 L399.0,303.5"/>
<path d="M399.0,303.8 L405.2,303.1"/>
<path d="M410.2,302.8 L431.5,301.2" stroke-dasharray="9 4"/>
<path d="M436.5,300.6 C444.8,299.6 474.0,296.0 486.5,294.4 C499.0,292.8 506.7,291.3 511.5,291.0 C516.3,290.7 514.4,290.2 515.2,292.5 C516.1,294.8 516.5,301.2 516.5,305.0 C516.5,308.8 516.3,311.7 515.2,315.0 C514.2,318.3 512.3,321.9 510.2,325.0 C508.2,328.1 505.5,331.5 502.8,333.8 C500.0,336.0 497.8,337.4 494.0,338.8 C490.2,340.1 491.7,340.4 480.2,341.9 C468.8,343.3 434.4,346.6 425.2,347.5"/>
<path d="M515.2,293.1 L516.2,305.0" stroke-width="2.6"/>
<path d="M421.5,348.1 L399.0,349.4" stroke-dasharray="9 4"/>
<path d="M286.2,345.6 L308.8,348.1" stroke-dasharray="9 4"/>
<path d="M312.5,348.8 L395.0,350.0"/>
<path d="M221.2,306.2 C227.7,307.0 246.5,309.3 260.0,310.6 C273.5,312.0 295.4,313.8 302.5,314.4"/>
<path d="M307.5,314.8 L330.0,316.0" stroke-dasharray="9 4"/>
<path d="M333.1,316.2 L399.0,316.2" stroke-width="2"/>
<path d="M399.0,315.6 L415.2,315.0" stroke-width="2"/>
<path d="M420.2,314.8 L441.5,312.5" stroke-dasharray="9 4"/>
<path d="M446.5,312.2 C453.2,311.6 476.1,309.3 486.5,308.1 C496.9,306.9 504.3,305.9 509.0,305.0 C513.7,304.1 513.7,302.9 514.6,302.5"/>
<path d="M218.8,319.4 C222.9,319.7 233.1,320.1 243.8,321.2 C254.4,322.4 276.0,325.4 282.5,326.2"/>
<path d="M287.5,326.9 L308.8,328.8" stroke-dasharray="9 4"/>
<path d="M313.1,329.0 L345.0,330.9"/>
<path d="M386.2,330.9 L399.0,330.6"/>
<path d="M399.0,330.0 L417.8,329.0"/>
<path d="M421.5,328.8 L444.0,326.2" stroke-dasharray="9 4"/>
<path d="M447.8,325.8 C454.2,325.1 475.9,323.0 486.5,321.9 C497.1,320.7 507.3,319.3 511.5,318.8"/>
<path d="M229.4,333.8 C230.9,333.8 235.7,334.0 238.8,333.8 C241.8,333.5 245.2,332.4 247.5,332.5 C249.8,332.6 251.7,334.1 252.5,334.4"/>
<path d="M257.5,335.0 L278.8,336.9" stroke-dasharray="9 4"/>
<path d="M283.8,337.5 C294.8,338.3 330.8,341.5 350.0,342.2 C369.2,343.0 390.8,341.9 399.0,341.9"/>
<path d="M399.0,341.9 L446.5,337.5"/>
<path d="M451.5,336.9 L474.0,334.4" stroke-dasharray="9 4"/>
<path d="M479.0,333.5 L502.8,331.9"/>
<path d="M235.0,341.9 L256.2,347.5" stroke-dasharray="9 4"/>
<path d="M260.0,348.8 C268.8,350.0 299.0,354.9 312.5,356.2 C326.0,357.6 336.5,356.8 341.2,356.9"/>
<path d="M345.0,356.9 L399.0,356.2" stroke-dasharray="9 4"/>
<ellipse cx="365.6" cy="331.9" rx="20" ry="10.6" fill="#fff"/>
<path d="M124.2,310.0 C125.4,311.5 128.0,315.8 131.2,318.8 C134.5,321.7 138.5,324.8 143.8,327.5 C149.0,330.2 154.0,332.1 162.5,335.0 C171.0,337.9 188.8,343.1 195.0,345.0 C201.2,346.9 199.2,346.0 200.0,346.2"/>
<path d="M200.0,328.1 L221.2,333.8"/>
<path d="M200.0,346.2 L221.2,351.2" stroke-dasharray="9 4"/>
<path d="M225.0,352.5 L232.5,353.8"/>
<path d="M153.8,346.2 C153.3,347.3 150.2,350.4 151.2,352.5 C152.3,354.6 151.9,355.9 160.0,358.8 C168.1,361.6 193.3,367.7 200.0,369.5"/>
<path d="M152.5,347.5 C156.2,348.8 167.1,352.6 175.0,355.0 C182.9,357.4 195.8,360.8 200.0,362.0"/>
<path d="M200.0,361.9 C201.9,362.3 201.7,362.2 211.2,364.4 C220.8,366.6 249.8,373.2 257.5,375.0"/>
<path d="M261.2,376.2 L282.5,379.4" stroke-dasharray="9 4"/>
<path d="M287.5,380.0 L329.4,381.9"/>
<path d="M211.2,364.4 L216.2,375.0"/>
<path d="M200.0,370.0 C202.7,370.6 206.9,371.7 216.2,373.8 C225.6,375.8 244.0,380.2 256.2,382.5 C268.5,384.8 284.4,386.7 290.0,387.5"/>
<path d="M293.8,388.1 L316.2,389.4" stroke-dasharray="9 4"/>
<path d="M321.2,390.0 L337.5,390.2"/>
<path d="M200.0,375.0 L240.0,385.0"/>
<path d="M243.8,386.9 L265.0,390.0" stroke-dasharray="9 4"/>
<path d="M270.0,390.6 C276.7,391.4 296.5,394.2 310.0,395.0 C323.5,395.8 344.4,395.5 351.2,395.6"/>
<path d="M356.2,395.6 L381.2,395.4" stroke-dasharray="9 4"/>
<path d="M330,376.9 L401.2,376.6 L402.2,380.7 L395,381.3 L393.1,390.2 L338.2,390.6 L337.4,382.6 L329.4,382 Z"/>
<path d="M399.0,381.2 L417.8,381.2"/>
<path d="M422.8,380.6 L469.0,375.6" stroke-dasharray="9 4"/>
<path d="M472.8,375.0 C480.0,373.5 503.4,369.4 516.5,366.2 C529.6,363.1 545.7,357.9 551.5,356.2"/>
<path d="M556.5,354.4 C559.8,353.1 572.8,347.8 576.5,346.9 C580.2,345.9 579.0,347.6 579.0,348.8 C579.0,349.9 577.8,352.1 576.5,353.8 C575.2,355.4 572.3,357.9 571.5,358.8" stroke-dasharray="9 4"/>
<path d="M516.5,366.2 L515.2,375.0"/>
<path d="M383.1,396.0 C388.9,395.6 405.5,395.1 417.5,393.8 C429.5,392.4 442.5,390.4 455.0,388.1 C467.5,385.8 482.1,382.4 492.5,380.0 C502.9,377.6 509.2,376.0 517.5,373.8 C525.8,371.5 534.2,369.0 542.5,366.2 C550.8,363.5 562.1,359.8 567.5,357.5 C572.9,355.2 573.1,354.1 575.0,352.5 C576.9,350.9 578.3,348.9 579.0,348.1"/>
<path d="M515.2,373.1 L570.2,358.8"/>
<path d="M393.1,390.0 L445.0,385.6" stroke-dasharray="9 4"/>
<path d="M450.0,385.0 L515.0,372.5"/>
<path d="M447.5,391.2 L503.8,380.6" stroke-dasharray="9 4"/>
<path d="M576.5,356.2 C578.2,355.0 582.9,352.1 586.5,348.8 C590.1,345.4 596.1,338.3 598.0,336.2" stroke-dasharray="9 4"/>
<path d="M417.8,368.8 C429.2,367.3 473.8,361.9 486.5,360.0 C499.2,358.1 491.9,358.5 494.0,357.5 C496.1,356.5 497.5,355.0 499.0,353.8 C500.5,352.5 501.6,351.7 502.8,350.0 C503.9,348.3 505.2,346.0 505.9,343.8 C506.5,341.5 506.4,337.5 506.5,336.2"/>
<path d="M399.0,369.4 L412.8,369.0" stroke-dasharray="9 4"/>
<path d="M509.0,333.8 C513.6,332.5 527.8,329.4 536.5,326.2 C545.2,323.1 553.8,318.8 561.5,315.0 C569.2,311.2 579.2,305.6 582.8,303.8"/>
<path d="M586.5,301.2 C587.8,300.4 591.1,298.5 594.0,296.2 C596.9,294.0 602.3,289.0 604.0,287.5" stroke-dasharray="9 4"/>
<path d="M499.0,353.8 L505.2,353.5"/>
<path d="M510.2,351.9 L532.8,346.9" stroke-dasharray="9 4"/>
<path d="M536.5,345.6 C542.8,343.4 563.8,336.8 574.0,332.5 C584.2,328.2 594.0,322.1 598.0,320.0"/>
<path d="M595.0,242.5 L612.5,230.0"/>
<path d="M611.2,217.5 C611.5,223.8 613.1,244.6 612.5,255.0 C611.9,265.4 609.6,272.5 607.5,280.0 C605.4,287.5 601.7,295.0 600.0,300.0 C598.3,305.0 597.9,308.3 597.5,310.0" stroke-dasharray="9 4"/>
<path d="M617.5,180.0 C617.7,188.3 619.2,215.4 618.8,230.0 C618.3,244.6 616.5,255.0 615.0,267.5 C613.5,280.0 612.5,294.6 610.0,305.0 C607.5,315.4 603.8,322.5 600.0,330.0 C596.2,337.5 591.7,345.0 587.5,350.0 C583.3,355.0 577.1,358.3 575.0,360.0" stroke-dasharray="9 4"/>
<path d="M597.5,310.0 L582.5,330.0"/>
</g>
<line x1="575.5" y1="157.2" x2="636.0" y2="157.2" stroke="#000" stroke-width="1.5"/>
<circle cx="649.6" cy="157.2" r="13.8" fill="#fff" stroke="#000" stroke-width="1.7"/>
<text class="c" x="649.6" y="164.3" font-size="20" text-anchor="middle">A</text>
<g id="parts-view">
<g transform="translate(1230,575) scale(0.13757)" fill="none" stroke="#000" stroke-width="13.5" stroke-linejoin="round" stroke-linecap="round">
<path d="M255,210 L700,82 L722,86 L1450,525 L1465,560 L1470,660 L880,825 L850,820 L520,625 L515,590 L495,585 L455,570 L415,575 L110,395 L115,352 L145,340 L155,275 Z" fill="#fff"/>
<path d="M280,230 L875,575"/>
<path d="M925,580 L1320,470"/>
<path d="M185,300 L450,445"/>
<path d="M165,390 L440,540"/>
<path d="M565,515 L840,675"/>
<path d="M545,610 L860,780 L1450,635"/>
<path d="M935,690 L1410,555"/>
<path d="M455,570 L458,480 L492,455"/>
<path d="M497,585 L502,510 L540,480"/>
<path d="M535,520 L525,580"/>
<path d="M145,340 L150,375"/>
</g>
<g transform="translate(1250,670) scale(0.13757)" fill="none" stroke="#000" stroke-width="13.5" stroke-linejoin="round" stroke-linecap="round">
<path d="M120,95 L220,60 L495,240 L520,290 L520,520 L400,565 L375,570 L325,545 L320,490 L250,490 L165,440 L170,330 L120,320 Z" fill="#fff"/>
<path d="M185,110 L185,330"/>
<path d="M195,140 L280,120 L470,235"/>
<path d="M205,178 L290,150 L440,250"/>
<path d="M200,95 L225,125" stroke-width="20"/>
<path d="M205,180 L225,200" stroke-width="20"/>
<path d="M330,240 L330,490"/>
<path d="M400,300 L405,555" stroke-width="18"/>
<path d="M180,330 L215,312 L225,400 M225,345 L270,345 L265,440 L225,440"/>
<path d="M345,420 L380,420 L375,500 L345,500 Z"/>
<path d="M420,260 L445,340 L465,265"/>
<path d="M240,230 L240,290 L270,290 M255,235 L255,300 M300,230 L300,280"/>
<path d="M195,150 L195,320 M300,290 L300,480 M510,290 L510,515" stroke-width="7" stroke-dasharray="7 7"/>
<path d="M340,250 L400,300"/>
</g>
<g transform="translate(1250,670) scale(0.13757)" fill="none" stroke="#000" stroke-width="13.5" stroke-linejoin="round" stroke-linecap="round">
<path d="M615,420 L700,385 L895,515 L900,660 L810,690 L620,570 Z" fill="#fff"/>
<path d="M615,420 L815,545 L895,515 M815,545 L810,690"/>
<path d="M650,460 L650,565 M668,470 L668,575 M715,500 L715,610 M732,510 L732,618 M770,545 L770,655 M790,555 L790,662"/>
<path d="M830,552 L870,540 L870,612 M840,570 L845,620"/>
<path d="M620,540 L810,660 L895,630"/>
<path d="M650,435 L740,440 L800,492 M720,455 L760,495 L810,490"/>
</g>
<line x1="1289.5" y1="747.0" x2="1289.5" y2="790.0" stroke="#000" stroke-width="1.4" stroke-dasharray="7 5"/>
<line x1="1353.8" y1="765.0" x2="1353.8" y2="792.0" stroke="#000" stroke-width="1.4" stroke-dasharray="5 4"/>
<g transform="translate(1250,670) scale(0.13757)" fill="none" stroke="#000" stroke-width="13.5" stroke-linejoin="round" stroke-linecap="round">
<path d="M1062,812 L1128,808 L1136,868 L1116,900 L1116,940 L1080,940 L1080,900 L1058,868 Z" fill="#fff"/>
<path d="M1080,830 L1082,890 M1080,900 L1116,900"/>
<path d="M1075,808 L1120,806" stroke-width="18"/>
</g>
<line x1="1400.6" y1="802.0" x2="1400.6" y2="814.0" stroke="#000" stroke-width="1.4" stroke-dasharray="6 4"/>
<g transform="translate(1240,760) scale(0.13757)" fill="none" stroke="#000" stroke-width="13.5" stroke-linejoin="round" stroke-linecap="round">
<path d="M80,215 L200,190 L255,165 L390,145 L650,75 L700,90 L1380,490 L1385,560 L1465,610 L1470,680 L1380,720 L1370,745 L930,885 L800,925 L760,905 L740,860 L670,850 L80,510 Z" fill="#fff"/>
<path d="M80,215 L95,240 L735,610 L800,640 L1340,510 L1380,490"/>
<path d="M110,225 L745,590"/>
<path d="M735,610 L680,810 L670,850"/>
<path d="M780,650 L740,800 L680,810"/>
<path d="M740,650 L720,790"/>
<path d="M835,680 L835,890" stroke-width="7" stroke-dasharray="7 7"/>
<path d="M920,650 L920,820 M1260,560 L1260,760 M1340,510 L1345,735"/>
<path d="M1385,560 L1380,720 M1380,560 L1465,610 M1385,700 L1465,660"/>
<path d="M890,870 m-34,0 a34,34 0 1,0 68,0 a34,34 0 1,0 -68,0"/>
<path d="M1322,722 m-28,0 a28,28 0 1,0 56,0 a28,28 0 1,0 -56,0"/>
<path d="M200,520 L155,520 L150,570 L200,585 M355,600 L312,600 L308,650 L360,668 M530,690 L485,692 L482,740 L540,760"/>
<path d="M380,430 L380,490 L450,515 L462,548 M380,430 L440,455 L440,500"/>
<path d="M640,580 L640,650 L685,660"/>
<path d="M390,150 L405,185 L700,330 L940,270 L700,95"/>
<path d="M405,185 L650,115 L700,95"/>
<path d="M455,170 L740,310 M520,150 L800,295 M585,135 L860,282"/>
<path d="M520,175 L585,160 M560,200 L640,180 M610,225 L690,205 M655,250 L740,228 M700,272 L790,250"/>
<path d="M700,100 L790,150" stroke-width="20"/>
<path d="M850,190 L960,250" stroke-width="14"/>
<path d="M1200,390 L1270,425" stroke-width="14"/>
<path d="M147,250 L252,221 M229,297 L334,268 M310,344 L416,315 M392,391 L498,361 M474,437 L579,408 M556,484 L661,455 M638,531 L743,502 M719,578 L825,548 M801,624 L907,595 M147,250 L803,625 M252,221 L908,596 M570,402 L975,289 M654,451 L1059,338 M739,499 L1144,386 M823,547 L1229,434 M908,596 L1313,483 M670,374 L1008,568 M769,347 L1108,540 M869,319 L1208,512 M975,289 L1313,483 M330,265 L474,225 M429,322 L573,282 M330,199 L506,300"/>
<path d="M620,405 L700,385 M740,490 L830,470" stroke-width="16"/>
<path d="M410,215 L440,250 L500,260 M440,230 L470,280"/>
<path d="M75,240 L75,500 M125,240 L125,330" stroke-width="7" stroke-dasharray="7 7"/>
<path d="M1165,320 L1165,380 M1165,430 L1165,500" stroke-width="12"/>
</g>
<g transform="translate(1230,885) scale(0.13757)" fill="none" stroke="#000" stroke-width="13.5" stroke-linejoin="round" stroke-linecap="round">
<path d="M440,130 L740,55 L780,65 L1375,380 L1380,520 L1400,500 L1445,495 L1445,560 L1400,620 L1320,650 L1230,660 L1210,710 L1100,770 L1010,780 L1000,830 L900,885 L840,865 L740,975 L640,990 L590,950 L650,700 L620,765 L330,620 L210,770 L150,805 L80,795 L45,750 L90,640 L135,280 L165,260 L205,300 L210,245 L360,220 L390,190 Z" fill="#fff"/>
<path d="M390,190 L395,370 L480,345 L560,385 L760,320"/>
<path d="M395,370 L440,430 L460,470"/>
<path d="M510,470 L820,330 L880,365"/>
<path d="M640,560 L850,465 M830,440 L950,390"/>
<path d="M800,640 L1120,480 L1060,460 L1010,470"/>
<path d="M860,690 L1380,540 M870,722 L1400,562"/>
<path d="M205,300 L380,420 L560,540 L780,665"/>
<path d="M255,395 L380,470 L560,585 L660,640"/>
<path d="M780,65 L800,240 L870,292"/>
<path d="M890,180 L868,292 M960,210 L935,322 L900,300 M1035,250 L1000,355 L975,330 M1085,265 L1065,340 L1035,335"/>
<path d="M1110,280 L1110,380 L1160,420 M1180,320 L1165,410 M1250,350 L1225,440 L1185,410 M1310,380 L1270,490 L1240,520"/>
<path d="M515,165 L555,260 L615,235 M590,150 L640,240 L682,225 M745,95 L745,210 L710,200 M775,110 L745,210 M625,282 L540,322"/>
<path d="M160,300 L150,740 M185,330 L175,760"/>
<path d="M170,320 L165,640" stroke-width="7" stroke-dasharray="7 7"/>
<path d="M100,760 L140,755"/>
<path d="M250,330 L250,590 L330,630"/>
<path d="M215,310 L225,390 L255,395 M225,320 L250,330"/>
<path d="M285,490 L345,520 L345,600 M300,500 L300,590"/>
<path d="M445,580 L500,605 L495,695 M455,590 L455,690"/>
<path d="M600,665 L650,690 M615,680 L620,750"/>
<path d="M690,650 L600,940 M720,660 L690,940 M750,680 L700,870"/>
<path d="M630,945 L665,940"/>
<path d="M380,420 L385,480 L430,500 L432,440 L410,415 Z"/>
<path d="M560,520 L570,590 L620,610 L618,532 L592,505 Z"/>
<path d="M780,570 L800,700 L830,750 L862,762 L882,740 L860,700"/>
<path d="M790,700 L790,790 L830,840"/>
<path d="M860,700 L980,670 L985,710 L870,740 M930,680 L935,770 M960,740 L960,760"/>
<path d="M1290,460 L1320,480 L1335,520 M1100,550 L1170,530 M1230,560 L1300,545"/>
<path d="M1020,610 L960,650 M1240,680 L1300,650"/>
<path d="M1380,520 L1395,560 L1440,540 M1400,580 L1420,590"/>
<path d="M1060,430 L1065,460 M960,360 L960,410"/>
<path d="M270,260 L270,300 M740,100 L740,200 M795,120 L800,230 M1105,290 L1105,370" stroke-width="7" stroke-dasharray="7 7"/>
</g>
<line x1="1321.8" y1="708.5" x2="1367.5" y2="708.5" stroke="#000" stroke-width="1.5"/>
<circle cx="1381.3" cy="708.7" r="13.9" fill="#fff" stroke="#000" stroke-width="1.8"/>
<text class="c" x="1381.3" y="715.8" font-size="20" text-anchor="middle" textLength="21" lengthAdjust="spacingAndGlyphs">21</text>
<line x1="1373.8" y1="748.5" x2="1420.5" y2="748.5" stroke="#000" stroke-width="1.5"/>
<circle cx="1434.4" cy="748.5" r="13.9" fill="#fff" stroke="#000" stroke-width="1.8"/>
<text class="c" x="1434.4" y="755.6" font-size="20" text-anchor="middle" textLength="21" lengthAdjust="spacingAndGlyphs">22</text>
<line x1="1431.8" y1="650.6" x2="1476.7" y2="650.6" stroke="#000" stroke-width="1.5"/>
<text x="1484.6" y="658.8" font-size="24.6" font-weight="bold" textLength="57.6" lengthAdjust="spacingAndGlyphs" text-anchor="start">82661</text>
<line x1="1406.0" y1="786.5" x2="1455.2" y2="786.5" stroke="#000" stroke-width="1.5"/>
<text x="1456.3" y="792.6" font-size="24.6" font-weight="bold" textLength="56.6" lengthAdjust="spacingAndGlyphs" text-anchor="start">82616</text>
<line x1="1441.6" y1="849.8" x2="1488.8" y2="849.8" stroke="#000" stroke-width="1.5"/>
<text x="1490.0" y="857.8" font-size="24.6" font-weight="bold" textLength="56.9" lengthAdjust="spacingAndGlyphs" text-anchor="start">82741</text>
<line x1="1429.5" y1="960.3" x2="1476.0" y2="960.3" stroke="#000" stroke-width="1.5"/>
<text x="1481.1" y="967.4" font-size="24.6" font-weight="bold" textLength="56.1" lengthAdjust="spacingAndGlyphs" text-anchor="start">82663</text>
<text x="1480.5" y="1070.3" font-size="16.6" textLength="81" lengthAdjust="spacingAndGlyphs">84D107B</text>
</g>
</svg>
</body></html>
